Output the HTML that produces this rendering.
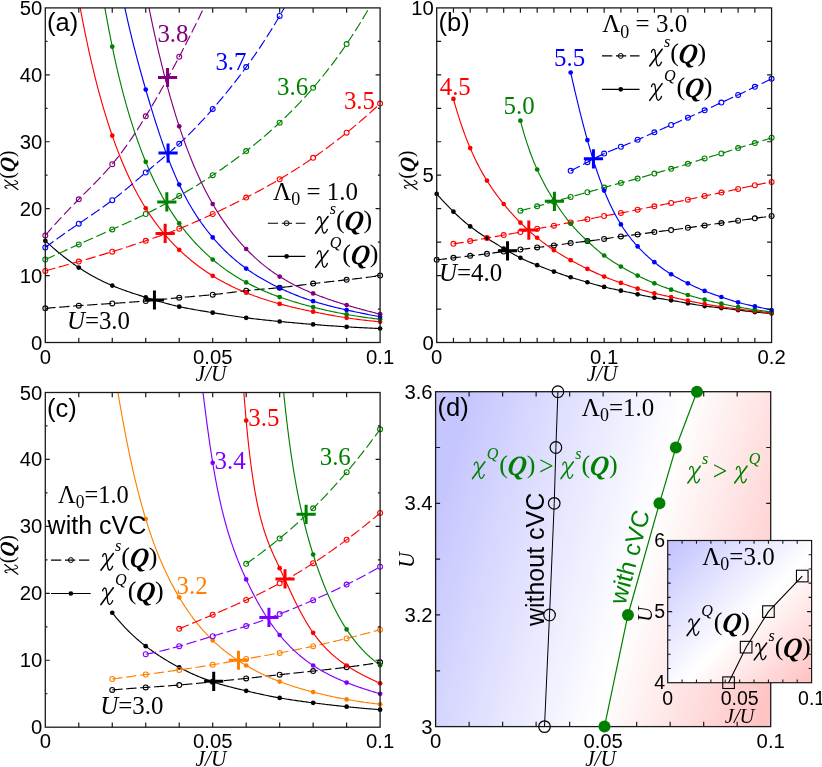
<!DOCTYPE html>
<html><head><meta charset="utf-8"><title>chart</title><style>html,body{margin:0;padding:0;background:#fff}svg{display:block;will-change:transform}</style></head><body>
<svg width="822" height="767" viewBox="0 0 822 767">
<defs>
<clipPath id="ca"><rect x="45.3" y="7.9" width="334.8" height="334.6"/></clipPath>
<clipPath id="cb"><rect x="436.7" y="7.9" width="334.9" height="334.6"/></clipPath>
<clipPath id="cc"><rect x="45.3" y="392.5" width="334.8" height="334.7"/></clipPath>
<clipPath id="cd"><rect x="435.6" y="391.7" width="335.1" height="334.9"/></clipPath>
<clipPath id="ci"><rect x="667.7" y="540.5" width="143.9" height="142.2"/></clipPath>
<linearGradient id="gd" gradientUnits="userSpaceOnUse" x1="435" y1="520" x2="790" y2="620"><stop offset="0" stop-color="#c6c6ff"/><stop offset="0.57" stop-color="#ffffff"/><stop offset="1" stop-color="#ffc4c4"/></linearGradient>
<linearGradient id="gi" gradientUnits="userSpaceOnUse" x1="667" y1="540" x2="812" y2="683"><stop offset="0" stop-color="#c0c0ff"/><stop offset="0.55" stop-color="#ffffff"/><stop offset="1" stop-color="#ffc0c0"/></linearGradient>
</defs>
<path d="M45.3 308.37 L46.98 308.22 L48.66 308.08 L50.35 307.93 L52.03 307.79 L53.71 307.65 L55.39 307.51 L57.08 307.37 L58.76 307.23 L60.44 307.1 L62.12 306.96 L63.81 306.83 L65.49 306.7 L67.17 306.56 L68.85 306.43 L70.54 306.31 L72.22 306.18 L73.9 306.05 L75.58 305.93 L77.27 305.8 L78.95 305.68 L80.63 305.56 L82.31 305.44 L84 305.32 L85.68 305.2 L87.36 305.08 L89.04 304.97 L90.73 304.85 L92.41 304.73 L94.09 304.62 L95.77 304.51 L97.45 304.39 L99.14 304.28 L100.82 304.17 L102.5 304.06 L104.18 303.95 L105.87 303.83 L107.55 303.72 L109.23 303.62 L110.91 303.51 L112.6 303.4 L114.28 303.29 L115.96 303.18 L117.64 303.07 L119.33 302.96 L121.01 302.85 L122.69 302.74 L124.37 302.63 L126.06 302.51 L127.74 302.4 L129.42 302.28 L131.1 302.16 L132.79 302.04 L134.47 301.92 L136.15 301.79 L137.83 301.66 L139.52 301.53 L141.2 301.4 L142.88 301.26 L144.56 301.11 L146.24 300.96 L147.93 300.81 L149.61 300.66 L151.29 300.5 L152.97 300.33 L154.66 300.17 L156.34 300 L158.02 299.83 L159.7 299.65 L161.39 299.48 L163.07 299.3 L164.75 299.13 L166.43 298.95 L168.12 298.78 L169.8 298.6 L171.48 298.43 L173.16 298.26 L174.85 298.09 L176.53 297.92 L178.21 297.76 L179.89 297.6 L181.58 297.44 L183.26 297.29 L184.94 297.14 L186.62 296.99 L188.31 296.85 L189.99 296.7 L191.67 296.56 L193.35 296.42 L195.03 296.28 L196.72 296.13 L198.4 295.99 L200.08 295.84 L201.76 295.7 L203.45 295.55 L205.13 295.39 L206.81 295.24 L208.49 295.08 L210.18 294.91 L211.86 294.74 L213.54 294.56 L215.22 294.38 L216.91 294.19 L218.59 294 L220.27 293.81 L221.95 293.61 L223.64 293.4 L225.32 293.2 L227 292.99 L228.68 292.78 L230.37 292.58 L232.05 292.37 L233.73 292.16 L235.41 291.95 L237.09 291.75 L238.78 291.55 L240.46 291.35 L242.14 291.15 L243.82 290.96 L245.51 290.78 L247.19 290.6 L248.87 290.42 L250.55 290.26 L252.24 290.09 L253.92 289.94 L255.6 289.78 L257.28 289.63 L258.97 289.48 L260.65 289.33 L262.33 289.19 L264.01 289.04 L265.7 288.9 L267.38 288.75 L269.06 288.61 L270.74 288.46 L272.43 288.31 L274.11 288.16 L275.79 288 L277.47 287.84 L279.16 287.68 L280.84 287.51 L282.52 287.33 L284.2 287.15 L285.88 286.96 L287.57 286.77 L289.25 286.57 L290.93 286.38 L292.61 286.17 L294.3 285.97 L295.98 285.76 L297.66 285.55 L299.34 285.34 L301.03 285.13 L302.71 284.92 L304.39 284.71 L306.07 284.49 L307.76 284.28 L309.44 284.07 L311.12 283.86 L312.8 283.65 L314.49 283.45 L316.17 283.24 L317.85 283.04 L319.53 282.84 L321.22 282.65 L322.9 282.45 L324.58 282.26 L326.26 282.07 L327.95 281.88 L329.63 281.69 L331.31 281.5 L332.99 281.31 L334.67 281.12 L336.36 280.94 L338.04 280.75 L339.72 280.56 L341.4 280.38 L343.09 280.19 L344.77 280 L346.45 279.81 L348.13 279.63 L349.82 279.44 L351.5 279.24 L353.18 279.05 L354.86 278.86 L356.55 278.66 L358.23 278.46 L359.91 278.26 L361.59 278.06 L363.28 277.85 L364.96 277.64 L366.64 277.43 L368.32 277.21 L370.01 276.99 L371.69 276.77 L373.37 276.54 L375.05 276.31 L376.74 276.07 L378.42 275.83 L380.1 275.58" fill="none" stroke="#000000" stroke-width="1.15" stroke-dasharray="10.3 3.7" clip-path="url(#ca)"/>
<path d="M45.3 240.78 L46.98 242.34 L48.66 243.87 L50.35 245.38 L52.03 246.87 L53.71 248.34 L55.39 249.79 L57.08 251.21 L58.76 252.61 L60.44 253.99 L62.12 255.35 L63.81 256.68 L65.49 257.99 L67.17 259.28 L68.85 260.55 L70.54 261.79 L72.22 263.01 L73.9 264.21 L75.58 265.38 L77.27 266.53 L78.95 267.66 L80.63 268.77 L82.31 269.85 L84 270.92 L85.68 271.96 L87.36 272.98 L89.04 273.97 L90.73 274.95 L92.41 275.9 L94.09 276.84 L95.77 277.75 L97.45 278.64 L99.14 279.51 L100.82 280.36 L102.5 281.19 L104.18 282 L105.87 282.79 L107.55 283.56 L109.23 284.31 L110.91 285.05 L112.6 285.76 L114.28 286.45 L115.96 287.13 L117.64 287.79 L119.33 288.44 L121.01 289.07 L122.69 289.69 L124.37 290.29 L126.06 290.89 L127.74 291.47 L129.42 292.05 L131.1 292.62 L132.79 293.18 L134.47 293.73 L136.15 294.28 L137.83 294.82 L139.52 295.36 L141.2 295.9 L142.88 296.43 L144.56 296.96 L146.24 297.49 L147.93 298.01 L149.61 298.54 L151.29 299.06 L152.97 299.57 L154.66 300.08 L156.34 300.59 L158.02 301.09 L159.7 301.58 L161.39 302.06 L163.07 302.54 L164.75 303.01 L166.43 303.47 L168.12 303.92 L169.8 304.36 L171.48 304.79 L173.16 305.21 L174.85 305.62 L176.53 306.02 L178.21 306.4 L179.89 306.78 L181.58 307.14 L183.26 307.49 L184.94 307.83 L186.62 308.17 L188.31 308.49 L189.99 308.81 L191.67 309.11 L193.35 309.42 L195.03 309.71 L196.72 310.01 L198.4 310.3 L200.08 310.58 L201.76 310.86 L203.45 311.14 L205.13 311.42 L206.81 311.69 L208.49 311.97 L210.18 312.24 L211.86 312.52 L213.54 312.79 L215.22 313.07 L216.91 313.34 L218.59 313.62 L220.27 313.89 L221.95 314.17 L223.64 314.44 L225.32 314.71 L227 314.98 L228.68 315.25 L230.37 315.51 L232.05 315.77 L233.73 316.03 L235.41 316.28 L237.09 316.53 L238.78 316.78 L240.46 317.02 L242.14 317.26 L243.82 317.49 L245.51 317.72 L247.19 317.94 L248.87 318.16 L250.55 318.37 L252.24 318.58 L253.92 318.78 L255.6 318.98 L257.28 319.17 L258.97 319.36 L260.65 319.55 L262.33 319.73 L264.01 319.92 L265.7 320.09 L267.38 320.27 L269.06 320.44 L270.74 320.61 L272.43 320.78 L274.11 320.95 L275.79 321.11 L277.47 321.28 L279.16 321.44 L280.84 321.6 L282.52 321.76 L284.2 321.92 L285.88 322.07 L287.57 322.23 L289.25 322.38 L290.93 322.53 L292.61 322.69 L294.3 322.84 L295.98 322.98 L297.66 323.13 L299.34 323.28 L301.03 323.42 L302.71 323.57 L304.39 323.71 L306.07 323.85 L307.76 323.99 L309.44 324.13 L311.12 324.27 L312.8 324.4 L314.49 324.54 L316.17 324.67 L317.85 324.81 L319.53 324.94 L321.22 325.07 L322.9 325.2 L324.58 325.32 L326.26 325.45 L327.95 325.57 L329.63 325.7 L331.31 325.82 L332.99 325.94 L334.67 326.05 L336.36 326.17 L338.04 326.29 L339.72 326.4 L341.4 326.51 L343.09 326.62 L344.77 326.72 L346.45 326.83 L348.13 326.93 L349.82 327.04 L351.5 327.13 L353.18 327.23 L354.86 327.33 L356.55 327.42 L358.23 327.51 L359.91 327.6 L361.59 327.69 L363.28 327.78 L364.96 327.86 L366.64 327.94 L368.32 328.02 L370.01 328.1 L371.69 328.17 L373.37 328.24 L375.05 328.32 L376.74 328.38 L378.42 328.45 L380.1 328.51" fill="none" stroke="#000000" stroke-width="1.15" clip-path="url(#ca)"/>
<path d="M45.3 270.9 L46.98 270.43 L48.66 269.96 L50.35 269.49 L52.03 269.02 L53.71 268.55 L55.39 268.08 L57.08 267.61 L58.76 267.14 L60.44 266.67 L62.12 266.2 L63.81 265.73 L65.49 265.26 L67.17 264.79 L68.85 264.32 L70.54 263.85 L72.22 263.38 L73.9 262.9 L75.58 262.43 L77.27 261.96 L78.95 261.48 L80.63 261 L82.31 260.52 L84 260.04 L85.68 259.56 L87.36 259.08 L89.04 258.6 L90.73 258.11 L92.41 257.62 L94.09 257.13 L95.77 256.64 L97.45 256.15 L99.14 255.65 L100.82 255.15 L102.5 254.65 L104.18 254.15 L105.87 253.64 L107.55 253.13 L109.23 252.62 L110.91 252.1 L112.6 251.59 L114.28 251.06 L115.96 250.54 L117.64 250.01 L119.33 249.48 L121.01 248.94 L122.69 248.4 L124.37 247.86 L126.06 247.32 L127.74 246.77 L129.42 246.22 L131.1 245.67 L132.79 245.12 L134.47 244.56 L136.15 244 L137.83 243.44 L139.52 242.88 L141.2 242.31 L142.88 241.75 L144.56 241.18 L146.24 240.61 L147.93 240.04 L149.61 239.47 L151.29 238.89 L152.97 238.32 L154.66 237.74 L156.34 237.16 L158.02 236.57 L159.7 235.98 L161.39 235.39 L163.07 234.79 L164.75 234.19 L166.43 233.58 L168.12 232.96 L169.8 232.34 L171.48 231.72 L173.16 231.08 L174.85 230.44 L176.53 229.79 L178.21 229.13 L179.89 228.47 L181.58 227.79 L183.26 227.11 L184.94 226.42 L186.62 225.71 L188.31 225 L189.99 224.29 L191.67 223.56 L193.35 222.83 L195.03 222.09 L196.72 221.35 L198.4 220.6 L200.08 219.84 L201.76 219.08 L203.45 218.31 L205.13 217.54 L206.81 216.76 L208.49 215.98 L210.18 215.2 L211.86 214.41 L213.54 213.62 L215.22 212.82 L216.91 212.03 L218.59 211.23 L220.27 210.43 L221.95 209.62 L223.64 208.82 L225.32 208 L227 207.19 L228.68 206.37 L230.37 205.55 L232.05 204.72 L233.73 203.89 L235.41 203.06 L237.09 202.22 L238.78 201.38 L240.46 200.53 L242.14 199.68 L243.82 198.83 L245.51 197.96 L247.19 197.1 L248.87 196.23 L250.55 195.35 L252.24 194.47 L253.92 193.58 L255.6 192.69 L257.28 191.79 L258.97 190.88 L260.65 189.97 L262.33 189.06 L264.01 188.13 L265.7 187.2 L267.38 186.27 L269.06 185.32 L270.74 184.37 L272.43 183.41 L274.11 182.45 L275.79 181.48 L277.47 180.5 L279.16 179.51 L280.84 178.52 L282.52 177.52 L284.2 176.51 L285.88 175.49 L287.57 174.46 L289.25 173.43 L290.93 172.38 L292.61 171.33 L294.3 170.27 L295.98 169.2 L297.66 168.13 L299.34 167.04 L301.03 165.95 L302.71 164.84 L304.39 163.73 L306.07 162.61 L307.76 161.48 L309.44 160.34 L311.12 159.19 L312.8 158.03 L314.49 156.87 L316.17 155.69 L317.85 154.5 L319.53 153.31 L321.22 152.1 L322.9 150.89 L324.58 149.66 L326.26 148.43 L327.95 147.18 L329.63 145.93 L331.31 144.66 L332.99 143.39 L334.67 142.11 L336.36 140.81 L338.04 139.51 L339.72 138.2 L341.4 136.87 L343.09 135.54 L344.77 134.2 L346.45 132.84 L348.13 131.48 L349.82 130.1 L351.5 128.72 L353.18 127.32 L354.86 125.92 L356.55 124.5 L358.23 123.08 L359.91 121.64 L361.59 120.2 L363.28 118.74 L364.96 117.27 L366.64 115.8 L368.32 114.31 L370.01 112.81 L371.69 111.3 L373.37 109.78 L375.05 108.25 L376.74 106.71 L378.42 105.16 L380.1 103.6" fill="none" stroke="#ff0000" stroke-width="1.15" stroke-dasharray="10.3 3.7" clip-path="url(#ca)"/>
<path d="M62.04 -112.56 L63.64 -99.93 L65.24 -87.75 L66.83 -75.99 L68.43 -64.65 L70.03 -53.69 L71.63 -43.11 L73.23 -32.9 L74.83 -23.03 L76.42 -13.49 L78.02 -4.27 L79.62 4.64 L81.22 13.26 L82.82 21.59 L84.42 29.65 L86.01 37.45 L87.61 45 L89.21 52.31 L90.81 59.38 L92.41 66.24 L94.01 72.87 L95.6 79.3 L97.2 85.53 L98.8 91.57 L100.4 97.42 L102 103.1 L103.6 108.6 L105.19 113.94 L106.79 119.12 L108.39 124.15 L109.99 129.03 L111.59 133.76 L113.19 138.36 L114.78 142.83 L116.38 147.17 L117.98 151.38 L119.58 155.47 L121.18 159.45 L122.78 163.31 L124.37 167.07 L125.97 170.72 L127.57 174.27 L129.17 177.71 L130.77 181.07 L132.36 184.33 L133.96 187.49 L135.56 190.58 L137.16 193.57 L138.76 196.49 L140.36 199.33 L141.95 202.08 L143.55 204.77 L145.15 207.38 L146.75 209.92 L148.35 212.4 L149.95 214.81 L151.54 217.15 L153.14 219.44 L154.74 221.67 L156.34 223.84 L157.94 225.95 L159.54 228.02 L161.13 230.03 L162.73 232 L164.33 233.92 L165.93 235.79 L167.53 237.62 L169.13 239.41 L170.72 241.15 L172.32 242.86 L173.92 244.53 L175.52 246.17 L177.12 247.76 L178.72 249.33 L180.31 250.86 L181.91 252.36 L183.51 253.83 L185.11 255.26 L186.71 256.67 L188.31 258.05 L189.9 259.4 L191.5 260.72 L193.1 262.01 L194.7 263.28 L196.3 264.52 L197.89 265.73 L199.49 266.92 L201.09 268.08 L202.69 269.22 L204.29 270.34 L205.89 271.43 L207.48 272.51 L209.08 273.55 L210.68 274.58 L212.28 275.59 L213.88 276.57 L215.48 277.54 L217.07 278.48 L218.67 279.41 L220.27 280.31 L221.87 281.2 L223.47 282.07 L225.07 282.92 L226.66 283.76 L228.26 284.58 L229.86 285.38 L231.46 286.17 L233.06 286.94 L234.66 287.69 L236.25 288.43 L237.85 289.16 L239.45 289.87 L241.05 290.56 L242.65 291.25 L244.25 291.92 L245.84 292.57 L247.44 293.22 L249.04 293.85 L250.64 294.47 L252.24 295.08 L253.83 295.67 L255.43 296.26 L257.03 296.83 L258.63 297.39 L260.23 297.95 L261.83 298.49 L263.42 299.02 L265.02 299.54 L266.62 300.05 L268.22 300.55 L269.82 301.05 L271.42 301.53 L273.01 302 L274.61 302.47 L276.21 302.93 L277.81 303.38 L279.41 303.82 L281.01 304.25 L282.6 304.68 L284.2 305.09 L285.8 305.51 L287.4 305.91 L289 306.31 L290.6 306.7 L292.19 307.09 L293.79 307.47 L295.39 307.84 L296.99 308.21 L298.59 308.58 L300.19 308.94 L301.78 309.29 L303.38 309.64 L304.98 309.99 L306.58 310.34 L308.18 310.68 L309.78 311.02 L311.37 311.35 L312.97 311.68 L314.57 312.01 L316.17 312.34 L317.77 312.66 L319.36 312.98 L320.96 313.3 L322.56 313.61 L324.16 313.92 L325.76 314.22 L327.36 314.52 L328.95 314.82 L330.55 315.11 L332.15 315.4 L333.75 315.69 L335.35 315.97 L336.95 316.24 L338.54 316.51 L340.14 316.78 L341.74 317.04 L343.34 317.3 L344.94 317.55 L346.54 317.79 L348.13 318.04 L349.73 318.27 L351.33 318.5 L352.93 318.73 L354.53 318.95 L356.13 319.17 L357.72 319.38 L359.32 319.58 L360.92 319.78 L362.52 319.98 L364.12 320.17 L365.72 320.35 L367.31 320.53 L368.91 320.7 L370.51 320.87 L372.11 321.03 L373.71 321.19 L375.31 321.34 L376.9 321.48 L378.5 321.62 L380.1 321.75" fill="none" stroke="#ff0000" stroke-width="1.15" clip-path="url(#ca)"/>
<path d="M45.3 259.52 L46.98 258.76 L48.66 258 L50.35 257.24 L52.03 256.48 L53.71 255.72 L55.39 254.95 L57.08 254.19 L58.76 253.43 L60.44 252.67 L62.12 251.91 L63.81 251.15 L65.49 250.39 L67.17 249.63 L68.85 248.87 L70.54 248.11 L72.22 247.35 L73.9 246.59 L75.58 245.84 L77.27 245.08 L78.95 244.32 L80.63 243.56 L82.31 242.81 L84 242.05 L85.68 241.29 L87.36 240.54 L89.04 239.78 L90.73 239.03 L92.41 238.27 L94.09 237.52 L95.77 236.77 L97.45 236.01 L99.14 235.26 L100.82 234.51 L102.5 233.76 L104.18 233.01 L105.87 232.26 L107.55 231.5 L109.23 230.75 L110.91 230 L112.6 229.26 L114.28 228.51 L115.96 227.76 L117.64 227.01 L119.33 226.26 L121.01 225.5 L122.69 224.75 L124.37 223.99 L126.06 223.24 L127.74 222.47 L129.42 221.71 L131.1 220.94 L132.79 220.17 L134.47 219.39 L136.15 218.61 L137.83 217.82 L139.52 217.02 L141.2 216.22 L142.88 215.41 L144.56 214.59 L146.24 213.76 L147.93 212.93 L149.61 212.09 L151.29 211.23 L152.97 210.37 L154.66 209.5 L156.34 208.62 L158.02 207.74 L159.7 206.84 L161.39 205.94 L163.07 205.03 L164.75 204.12 L166.43 203.19 L168.12 202.26 L169.8 201.32 L171.48 200.38 L173.16 199.42 L174.85 198.47 L176.53 197.5 L178.21 196.53 L179.89 195.55 L181.58 194.57 L183.26 193.58 L184.94 192.59 L186.62 191.59 L188.31 190.58 L189.99 189.57 L191.67 188.55 L193.35 187.53 L195.03 186.49 L196.72 185.45 L198.4 184.41 L200.08 183.35 L201.76 182.29 L203.45 181.22 L205.13 180.15 L206.81 179.06 L208.49 177.97 L210.18 176.87 L211.86 175.76 L213.54 174.64 L215.22 173.51 L216.91 172.38 L218.59 171.23 L220.27 170.08 L221.95 168.91 L223.64 167.74 L225.32 166.56 L227 165.37 L228.68 164.17 L230.37 162.96 L232.05 161.74 L233.73 160.51 L235.41 159.27 L237.09 158.02 L238.78 156.77 L240.46 155.5 L242.14 154.22 L243.82 152.93 L245.51 151.63 L247.19 150.32 L248.87 149 L250.55 147.67 L252.24 146.33 L253.92 144.98 L255.6 143.61 L257.28 142.24 L258.97 140.85 L260.65 139.45 L262.33 138.04 L264.01 136.61 L265.7 135.17 L267.38 133.72 L269.06 132.25 L270.74 130.77 L272.43 129.27 L274.11 127.76 L275.79 126.24 L277.47 124.7 L279.16 123.14 L280.84 121.56 L282.52 119.97 L284.2 118.37 L285.88 116.74 L287.57 115.1 L289.25 113.44 L290.93 111.76 L292.61 110.07 L294.3 108.35 L295.98 106.62 L297.66 104.87 L299.34 103.09 L301.03 101.3 L302.71 99.49 L304.39 97.66 L306.07 95.81 L307.76 93.94 L309.44 92.04 L311.12 90.13 L312.8 88.19 L314.49 86.23 L316.17 84.25 L317.85 82.25 L319.53 80.22 L321.22 78.17 L322.9 76.1 L324.58 74 L326.26 71.87 L327.95 69.72 L329.63 67.55 L331.31 65.35 L332.99 63.12 L334.67 60.86 L336.36 58.58 L338.04 56.27 L339.72 53.93 L341.4 51.57 L343.09 49.17 L344.77 46.74 L346.45 44.28 L348.13 41.8 L349.82 39.28 L351.5 36.72 L353.18 34.14 L354.86 31.52 L356.55 28.87 L358.23 26.18 L359.91 23.46 L361.59 20.7 L363.28 17.91 L364.96 15.08 L366.64 12.21 L368.32 9.3 L370.01 6.36 L371.69 3.37 L373.37 0.35 L375.05 -2.72 L376.74 -5.83 L378.42 -8.98 L380.1 -12.18" fill="none" stroke="#008000" stroke-width="1.15" stroke-dasharray="10.3 3.7" clip-path="url(#ca)"/>
<path d="M78.78 -192.86 L80.29 -178.04 L81.81 -163.66 L83.32 -149.7 L84.84 -136.16 L86.35 -123.03 L87.87 -110.3 L89.38 -97.97 L90.89 -86.01 L92.41 -74.43 L93.92 -63.22 L95.44 -52.36 L96.95 -41.86 L98.46 -31.69 L99.98 -21.85 L101.49 -12.34 L103.01 -3.14 L104.52 5.75 L106.04 14.35 L107.55 22.65 L109.06 30.67 L110.58 38.42 L112.09 45.9 L113.61 53.12 L115.12 60.09 L116.63 66.82 L118.15 73.33 L119.66 79.62 L121.18 85.7 L122.69 91.58 L124.21 97.28 L125.72 102.79 L127.23 108.13 L128.75 113.3 L130.26 118.31 L131.78 123.17 L133.29 127.88 L134.8 132.45 L136.32 136.89 L137.83 141.2 L139.35 145.39 L140.86 149.46 L142.38 153.41 L143.89 157.26 L145.4 161 L146.92 164.64 L148.43 168.18 L149.95 171.63 L151.46 174.99 L152.97 178.26 L154.49 181.45 L156 184.55 L157.52 187.57 L159.03 190.51 L160.55 193.38 L162.06 196.18 L163.57 198.9 L165.09 201.56 L166.6 204.15 L168.12 206.67 L169.63 209.13 L171.14 211.53 L172.66 213.88 L174.17 216.16 L175.69 218.39 L177.2 220.56 L178.72 222.69 L180.23 224.76 L181.74 226.78 L183.26 228.75 L184.77 230.68 L186.29 232.57 L187.8 234.41 L189.31 236.2 L190.83 237.96 L192.34 239.68 L193.86 241.36 L195.37 243 L196.89 244.61 L198.4 246.18 L199.91 247.72 L201.43 249.23 L202.94 250.71 L204.46 252.15 L205.97 253.57 L207.48 254.95 L209 256.31 L210.51 257.64 L212.03 258.95 L213.54 260.23 L215.06 261.48 L216.57 262.71 L218.08 263.92 L219.6 265.1 L221.11 266.26 L222.63 267.4 L224.14 268.51 L225.65 269.6 L227.17 270.67 L228.68 271.72 L230.2 272.75 L231.71 273.76 L233.23 274.74 L234.74 275.71 L236.25 276.66 L237.77 277.59 L239.28 278.5 L240.8 279.39 L242.31 280.26 L243.82 281.11 L245.34 281.95 L246.85 282.77 L248.37 283.57 L249.88 284.36 L251.4 285.12 L252.91 285.88 L254.42 286.62 L255.94 287.34 L257.45 288.05 L258.97 288.75 L260.48 289.43 L261.99 290.1 L263.51 290.76 L265.02 291.4 L266.54 292.03 L268.05 292.65 L269.57 293.26 L271.08 293.86 L272.59 294.45 L274.11 295.03 L275.62 295.6 L277.14 296.15 L278.65 296.7 L280.16 297.24 L281.68 297.77 L283.19 298.29 L284.71 298.8 L286.22 299.31 L287.74 299.8 L289.25 300.29 L290.76 300.77 L292.28 301.24 L293.79 301.71 L295.31 302.17 L296.82 302.62 L298.33 303.06 L299.85 303.5 L301.36 303.94 L302.88 304.36 L304.39 304.78 L305.91 305.2 L307.42 305.6 L308.93 306.01 L310.45 306.41 L311.96 306.8 L313.48 307.18 L314.99 307.57 L316.5 307.94 L318.02 308.32 L319.53 308.68 L321.05 309.05 L322.56 309.4 L324.08 309.75 L325.59 310.1 L327.1 310.44 L328.62 310.78 L330.13 311.11 L331.65 311.44 L333.16 311.76 L334.67 312.08 L336.19 312.39 L337.7 312.69 L339.22 312.99 L340.73 313.29 L342.25 313.58 L343.76 313.87 L345.27 314.15 L346.79 314.42 L348.3 314.7 L349.82 314.96 L351.33 315.22 L352.84 315.48 L354.36 315.73 L355.87 315.98 L357.39 316.22 L358.9 316.46 L360.42 316.69 L361.93 316.91 L363.44 317.14 L364.96 317.36 L366.47 317.57 L367.99 317.78 L369.5 317.98 L371.01 318.18 L372.53 318.37 L374.04 318.56 L375.56 318.75 L377.07 318.93 L378.59 319.11 L380.1 319.28" fill="none" stroke="#008000" stroke-width="1.15" clip-path="url(#ca)"/>
<path d="M45.3 247.47 L46.65 246.47 L47.99 245.46 L49.34 244.47 L50.68 243.47 L52.03 242.49 L53.38 241.5 L54.72 240.52 L56.07 239.55 L57.41 238.58 L58.76 237.62 L60.11 236.66 L61.45 235.7 L62.8 234.75 L64.14 233.81 L65.49 232.86 L66.83 231.93 L68.18 230.99 L69.53 230.06 L70.87 229.13 L72.22 228.2 L73.56 227.28 L74.91 226.36 L76.26 225.44 L77.6 224.52 L78.95 223.6 L80.29 222.69 L81.64 221.77 L82.99 220.86 L84.33 219.94 L85.68 219.03 L87.02 218.11 L88.37 217.2 L89.72 216.28 L91.06 215.36 L92.41 214.44 L93.75 213.51 L95.1 212.59 L96.45 211.65 L97.79 210.72 L99.14 209.78 L100.48 208.83 L101.83 207.88 L103.17 206.92 L104.52 205.95 L105.87 204.98 L107.21 203.99 L108.56 203 L109.9 202 L111.25 200.99 L112.6 199.97 L113.94 198.94 L115.29 197.9 L116.63 196.84 L117.98 195.78 L119.33 194.71 L120.67 193.62 L122.02 192.53 L123.36 191.43 L124.71 190.33 L126.06 189.22 L127.4 188.1 L128.75 186.97 L130.09 185.84 L131.44 184.7 L132.79 183.57 L134.13 182.42 L135.48 181.28 L136.82 180.13 L138.17 178.98 L139.52 177.83 L140.86 176.68 L142.21 175.53 L143.55 174.38 L144.9 173.24 L146.24 172.1 L147.59 170.96 L148.94 169.82 L150.28 168.69 L151.63 167.56 L152.97 166.43 L154.32 165.3 L155.67 164.17 L157.01 163.04 L158.36 161.91 L159.7 160.77 L161.05 159.64 L162.4 158.5 L163.74 157.36 L165.09 156.22 L166.43 155.07 L167.78 153.91 L169.13 152.75 L170.47 151.58 L171.82 150.4 L173.16 149.22 L174.51 148.02 L175.86 146.81 L177.2 145.6 L178.55 144.37 L179.89 143.12 L181.24 141.87 L182.58 140.6 L183.93 139.32 L185.28 138.02 L186.62 136.71 L187.97 135.39 L189.31 134.05 L190.66 132.71 L192.01 131.35 L193.35 129.97 L194.7 128.59 L196.04 127.19 L197.39 125.78 L198.74 124.36 L200.08 122.93 L201.43 121.48 L202.77 120.03 L204.12 118.56 L205.47 117.08 L206.81 115.59 L208.16 114.09 L209.5 112.58 L210.85 111.06 L212.2 109.53 L213.54 107.98 L214.89 106.43 L216.23 104.87 L217.58 103.3 L218.92 101.72 L220.27 100.13 L221.62 98.52 L222.96 96.91 L224.31 95.28 L225.65 93.65 L227 92 L228.35 90.34 L229.69 88.67 L231.04 86.98 L232.38 85.29 L233.73 83.58 L235.08 81.85 L236.42 80.12 L237.77 78.37 L239.11 76.61 L240.46 74.83 L241.81 73.04 L243.15 71.24 L244.5 69.42 L245.84 67.58 L247.19 65.74 L248.54 63.87 L249.88 61.99 L251.23 60.1 L252.57 58.19 L253.92 56.26 L255.27 54.32 L256.61 52.36 L257.96 50.38 L259.3 48.38 L260.65 46.37 L261.99 44.34 L263.34 42.29 L264.69 40.23 L266.03 38.14 L267.38 36.04 L268.72 33.92 L270.07 31.78 L271.42 29.62 L272.76 27.43 L274.11 25.23 L275.45 23.01 L276.8 20.77 L278.15 18.5 L279.49 16.22 L280.84 13.91 L282.18 11.58 L283.53 9.23 L284.88 6.85 L286.22 4.46 L287.57 2.03 L288.91 -0.41 L290.26 -2.88 L291.61 -5.38 L292.95 -7.9 L294.3 -10.44 L295.64 -13.01 L296.99 -15.61 L298.33 -18.23 L299.68 -20.89 L301.03 -23.56 L302.37 -26.27 L303.72 -29.01 L305.06 -31.77 L306.41 -34.56 L307.76 -37.38 L309.1 -40.24 L310.45 -43.12 L311.79 -46.04 L313.14 -48.98" fill="none" stroke="#0000ff" stroke-width="1.15" stroke-dasharray="10.3 3.7" clip-path="url(#ca)"/>
<path d="M112.26 -62.37 L113.61 -53.57 L114.95 -45.15 L116.3 -37.06 L117.64 -29.29 L118.99 -21.82 L120.34 -14.63 L121.68 -7.68 L123.03 -0.98 L124.37 5.5 L125.72 11.78 L127.07 17.88 L128.41 23.79 L129.76 29.55 L131.1 35.16 L132.45 40.64 L133.79 45.99 L135.14 51.22 L136.49 56.36 L137.83 61.39 L139.18 66.35 L140.52 71.23 L141.87 76.03 L143.22 80.78 L144.56 85.48 L145.91 90.12 L147.25 94.72 L148.6 99.27 L149.95 103.78 L151.29 108.23 L152.64 112.62 L153.98 116.94 L155.33 121.21 L156.68 125.41 L158.02 129.54 L159.37 133.6 L160.71 137.59 L162.06 141.51 L163.41 145.35 L164.75 149.11 L166.1 152.8 L167.44 156.41 L168.79 159.94 L170.13 163.39 L171.48 166.76 L172.83 170.04 L174.17 173.25 L175.52 176.38 L176.86 179.43 L178.21 182.4 L179.56 185.28 L180.9 188.09 L182.25 190.82 L183.59 193.48 L184.94 196.07 L186.29 198.59 L187.63 201.04 L188.98 203.43 L190.32 205.76 L191.67 208.04 L193.02 210.25 L194.36 212.42 L195.71 214.53 L197.05 216.59 L198.4 218.6 L199.75 220.57 L201.09 222.49 L202.44 224.37 L203.78 226.21 L205.13 228 L206.48 229.76 L207.82 231.48 L209.17 233.17 L210.51 234.82 L211.86 236.44 L213.2 238.03 L214.55 239.58 L215.9 241.11 L217.24 242.6 L218.59 244.07 L219.93 245.51 L221.28 246.92 L222.63 248.3 L223.97 249.65 L225.32 250.98 L226.66 252.28 L228.01 253.56 L229.36 254.81 L230.7 256.04 L232.05 257.24 L233.39 258.43 L234.74 259.58 L236.09 260.72 L237.43 261.83 L238.78 262.92 L240.12 263.99 L241.47 265.04 L242.82 266.07 L244.16 267.08 L245.51 268.07 L246.85 269.04 L248.2 269.99 L249.54 270.92 L250.89 271.83 L252.24 272.73 L253.58 273.61 L254.93 274.48 L256.27 275.33 L257.62 276.16 L258.97 276.98 L260.31 277.79 L261.66 278.58 L263 279.36 L264.35 280.12 L265.7 280.87 L267.04 281.62 L268.39 282.34 L269.73 283.06 L271.08 283.77 L272.43 284.46 L273.77 285.15 L275.12 285.82 L276.46 286.49 L277.81 287.14 L279.16 287.79 L280.5 288.42 L281.85 289.05 L283.19 289.67 L284.54 290.28 L285.88 290.88 L287.23 291.48 L288.58 292.06 L289.92 292.63 L291.27 293.2 L292.61 293.76 L293.96 294.31 L295.31 294.85 L296.65 295.38 L298 295.9 L299.34 296.42 L300.69 296.92 L302.04 297.42 L303.38 297.91 L304.73 298.39 L306.07 298.86 L307.42 299.33 L308.77 299.78 L310.11 300.23 L311.46 300.67 L312.8 301.1 L314.15 301.53 L315.5 301.94 L316.84 302.35 L318.19 302.76 L319.53 303.15 L320.88 303.54 L322.23 303.92 L323.57 304.3 L324.92 304.67 L326.26 305.03 L327.61 305.39 L328.95 305.74 L330.3 306.09 L331.65 306.43 L332.99 306.77 L334.34 307.11 L335.68 307.44 L337.03 307.76 L338.38 308.08 L339.72 308.4 L341.07 308.72 L342.41 309.03 L343.76 309.33 L345.11 309.64 L346.45 309.94 L347.8 310.24 L349.14 310.53 L350.49 310.83 L351.84 311.12 L353.18 311.4 L354.53 311.69 L355.87 311.97 L357.22 312.25 L358.57 312.53 L359.91 312.81 L361.26 313.08 L362.6 313.36 L363.95 313.63 L365.29 313.9 L366.64 314.17 L367.99 314.44 L369.33 314.71 L370.68 314.97 L372.02 315.24 L373.37 315.5 L374.72 315.76 L376.06 316.02 L377.41 316.28 L378.75 316.54 L380.1 316.8" fill="none" stroke="#0000ff" stroke-width="1.15" clip-path="url(#ca)"/>
<path d="M45.3 235.43 L46.31 234.25 L47.32 233.07 L48.33 231.91 L49.34 230.74 L50.35 229.59 L51.36 228.44 L52.37 227.29 L53.38 226.15 L54.39 225.02 L55.39 223.89 L56.4 222.77 L57.41 221.66 L58.42 220.55 L59.43 219.45 L60.44 218.35 L61.45 217.26 L62.46 216.17 L63.47 215.09 L64.48 214.02 L65.49 212.95 L66.5 211.89 L67.51 210.83 L68.52 209.78 L69.53 208.73 L70.54 207.68 L71.55 206.64 L72.56 205.61 L73.56 204.57 L74.57 203.54 L75.58 202.52 L76.59 201.5 L77.6 200.48 L78.61 199.46 L79.62 198.45 L80.63 197.43 L81.64 196.42 L82.65 195.41 L83.66 194.4 L84.67 193.39 L85.68 192.38 L86.69 191.37 L87.7 190.36 L88.71 189.35 L89.72 188.34 L90.73 187.32 L91.73 186.3 L92.74 185.28 L93.75 184.26 L94.76 183.23 L95.77 182.19 L96.78 181.16 L97.79 180.11 L98.8 179.06 L99.81 178 L100.82 176.94 L101.83 175.87 L102.84 174.78 L103.85 173.69 L104.86 172.59 L105.87 171.48 L106.88 170.36 L107.89 169.23 L108.9 168.08 L109.9 166.92 L110.91 165.75 L111.92 164.56 L112.93 163.35 L113.94 162.13 L114.95 160.9 L115.96 159.65 L116.97 158.38 L117.98 157.1 L118.99 155.8 L120 154.48 L121.01 153.16 L122.02 151.81 L123.03 150.45 L124.04 149.08 L125.05 147.69 L126.06 146.29 L127.07 144.87 L128.07 143.44 L129.08 142 L130.09 140.54 L131.1 139.07 L132.11 137.58 L133.12 136.08 L134.13 134.57 L135.14 133.04 L136.15 131.51 L137.16 129.96 L138.17 128.39 L139.18 126.82 L140.19 125.23 L141.2 123.63 L142.21 122.03 L143.22 120.41 L144.23 118.78 L145.24 117.13 L146.24 115.48 L147.25 113.82 L148.26 112.15 L149.27 110.47 L150.28 108.78 L151.29 107.08 L152.3 105.38 L153.31 103.66 L154.32 101.93 L155.33 100.2 L156.34 98.45 L157.35 96.7 L158.36 94.93 L159.37 93.16 L160.38 91.38 L161.39 89.59 L162.4 87.8 L163.41 85.99 L164.41 84.18 L165.42 82.36 L166.43 80.53 L167.44 78.69 L168.45 76.85 L169.46 75 L170.47 73.14 L171.48 71.27 L172.49 69.4 L173.5 67.52 L174.51 65.63 L175.52 63.74 L176.53 61.84 L177.54 59.94 L178.55 58.03 L179.56 56.11 L180.57 54.19 L181.58 52.26 L182.58 50.33 L183.59 48.39 L184.6 46.44 L185.61 44.49 L186.62 42.53 L187.63 40.56 L188.64 38.58 L189.65 36.59 L190.66 34.59 L191.67 32.59 L192.68 30.57 L193.69 28.55 L194.7 26.51 L195.71 24.46 L196.72 22.4 L197.73 20.33 L198.74 18.25 L199.75 16.15 L200.75 14.04 L201.76 11.91 L202.77 9.77 L203.78 7.61 L204.79 5.44 L205.8 3.26 L206.81 1.05 L207.82 -1.17 L208.83 -3.41 L209.84 -5.67 L210.85 -7.95 L211.86 -10.25 L212.87 -12.56 L213.88 -14.9 L214.89 -17.27 L215.9 -19.65 L216.91 -22.06 L217.92 -24.49 L218.92 -26.95 L219.93 -29.43 L220.94 -31.94 L221.95 -34.47 L222.96 -37.04 L223.97 -39.63 L224.98 -42.25 L225.99 -44.9 L227 -47.59 L228.01 -50.3 L229.02 -53.05 L230.03 -55.84 L231.04 -58.65 L232.05 -61.51 L233.06 -64.4 L234.07 -67.33 L235.08 -70.3 L236.09 -73.31 L237.09 -76.36 L238.1 -79.45 L239.11 -82.59 L240.12 -85.77 L241.13 -88.99 L242.14 -92.27 L243.15 -95.59 L244.16 -98.96 L245.17 -102.39 L246.18 -105.86" fill="none" stroke="#800080" stroke-width="1.15" stroke-dasharray="10.3 3.7" clip-path="url(#ca)"/>
<path d="M129 -105.86 L130.26 -97.75 L131.52 -89.77 L132.79 -81.92 L134.05 -74.2 L135.31 -66.6 L136.57 -59.14 L137.83 -51.8 L139.09 -44.58 L140.36 -37.5 L141.62 -30.53 L142.88 -23.69 L144.14 -16.97 L145.4 -10.37 L146.67 -3.89 L147.93 2.48 L149.19 8.72 L150.45 14.86 L151.71 20.87 L152.97 26.78 L154.24 32.57 L155.5 38.25 L156.76 43.82 L158.02 49.29 L159.28 54.64 L160.55 59.9 L161.81 65.05 L163.07 70.1 L164.33 75.05 L165.59 79.9 L166.85 84.65 L168.12 89.3 L169.38 93.86 L170.64 98.33 L171.9 102.71 L173.16 106.99 L174.43 111.19 L175.69 115.3 L176.95 119.32 L178.21 123.26 L179.47 127.11 L180.73 130.89 L182 134.58 L183.26 138.19 L184.52 141.73 L185.78 145.19 L187.04 148.58 L188.31 151.9 L189.57 155.15 L190.83 158.33 L192.09 161.44 L193.35 164.49 L194.61 167.47 L195.88 170.39 L197.14 173.25 L198.4 176.05 L199.66 178.79 L200.92 181.47 L202.18 184.1 L203.45 186.67 L204.71 189.19 L205.97 191.66 L207.23 194.08 L208.49 196.44 L209.76 198.76 L211.02 201.02 L212.28 203.25 L213.54 205.42 L214.8 207.55 L216.06 209.64 L217.33 211.68 L218.59 213.68 L219.85 215.65 L221.11 217.57 L222.37 219.46 L223.64 221.3 L224.9 223.12 L226.16 224.89 L227.42 226.63 L228.68 228.34 L229.94 230.02 L231.21 231.66 L232.47 233.28 L233.73 234.86 L234.99 236.41 L236.25 237.94 L237.52 239.44 L238.78 240.9 L240.04 242.35 L241.3 243.77 L242.56 245.16 L243.82 246.52 L245.09 247.87 L246.35 249.19 L247.61 250.48 L248.87 251.76 L250.13 253.01 L251.4 254.24 L252.66 255.45 L253.92 256.63 L255.18 257.8 L256.44 258.94 L257.7 260.07 L258.97 261.17 L260.23 262.25 L261.49 263.32 L262.75 264.36 L264.01 265.38 L265.28 266.39 L266.54 267.37 L267.8 268.34 L269.06 269.29 L270.32 270.22 L271.58 271.14 L272.85 272.03 L274.11 272.91 L275.37 273.78 L276.63 274.62 L277.89 275.45 L279.16 276.26 L280.42 277.06 L281.68 277.84 L282.94 278.61 L284.2 279.36 L285.46 280.1 L286.73 280.82 L287.99 281.53 L289.25 282.23 L290.51 282.91 L291.77 283.58 L293.04 284.24 L294.3 284.89 L295.56 285.53 L296.82 286.16 L298.08 286.78 L299.34 287.38 L300.61 287.98 L301.87 288.57 L303.13 289.15 L304.39 289.72 L305.65 290.28 L306.92 290.83 L308.18 291.38 L309.44 291.91 L310.7 292.44 L311.96 292.97 L313.22 293.48 L314.49 293.99 L315.75 294.49 L317.01 294.99 L318.27 295.48 L319.53 295.96 L320.79 296.44 L322.06 296.91 L323.32 297.37 L324.58 297.83 L325.84 298.29 L327.1 298.74 L328.37 299.18 L329.63 299.62 L330.89 300.05 L332.15 300.48 L333.41 300.91 L334.67 301.33 L335.94 301.74 L337.2 302.15 L338.46 302.56 L339.72 302.96 L340.98 303.36 L342.25 303.75 L343.51 304.14 L344.77 304.53 L346.03 304.91 L347.29 305.29 L348.55 305.67 L349.82 306.04 L351.08 306.41 L352.34 306.78 L353.6 307.14 L354.86 307.5 L356.13 307.86 L357.39 308.21 L358.65 308.56 L359.91 308.91 L361.17 309.25 L362.43 309.59 L363.7 309.93 L364.96 310.27 L366.22 310.61 L367.48 310.94 L368.74 311.27 L370.01 311.59 L371.27 311.92 L372.53 312.24 L373.79 312.56 L375.05 312.88 L376.31 313.19 L377.58 313.51 L378.84 313.82 L380.1 314.13" fill="none" stroke="#800080" stroke-width="1.15" clip-path="url(#ca)"/>
<circle cx="45.3" cy="308.37" r="2.45" fill="none" stroke="#000000" stroke-width="1.1"/>
<circle cx="78.78" cy="305.69" r="2.45" fill="none" stroke="#000000" stroke-width="1.1"/>
<circle cx="112.26" cy="303.42" r="2.45" fill="none" stroke="#000000" stroke-width="1.1"/>
<circle cx="145.74" cy="301.01" r="2.45" fill="none" stroke="#000000" stroke-width="1.1"/>
<circle cx="179.22" cy="297.66" r="2.45" fill="none" stroke="#000000" stroke-width="1.1"/>
<circle cx="212.7" cy="294.65" r="2.45" fill="none" stroke="#000000" stroke-width="1.1"/>
<circle cx="246.18" cy="290.7" r="2.45" fill="none" stroke="#000000" stroke-width="1.1"/>
<circle cx="279.66" cy="287.63" r="2.45" fill="none" stroke="#000000" stroke-width="1.1"/>
<circle cx="313.14" cy="283.61" r="2.45" fill="none" stroke="#000000" stroke-width="1.1"/>
<circle cx="346.62" cy="279.8" r="2.45" fill="none" stroke="#000000" stroke-width="1.1"/>
<circle cx="380.1" cy="275.58" r="2.45" fill="none" stroke="#000000" stroke-width="1.1"/>
<circle cx="45.3" cy="240.78" r="2.35" fill="#000000"/>
<circle cx="78.78" cy="267.55" r="2.35" fill="#000000"/>
<circle cx="112.26" cy="285.62" r="2.35" fill="#000000"/>
<circle cx="145.74" cy="297.33" r="2.35" fill="#000000"/>
<circle cx="179.22" cy="306.63" r="2.35" fill="#000000"/>
<circle cx="212.7" cy="312.65" r="2.35" fill="#000000"/>
<circle cx="246.18" cy="317.81" r="2.35" fill="#000000"/>
<circle cx="279.66" cy="321.49" r="2.35" fill="#000000"/>
<circle cx="313.14" cy="324.43" r="2.35" fill="#000000"/>
<circle cx="346.62" cy="326.84" r="2.35" fill="#000000"/>
<circle cx="380.1" cy="328.51" r="2.35" fill="#000000"/>
<circle cx="45.3" cy="270.9" r="2.45" fill="none" stroke="#ff0000" stroke-width="1.1"/>
<circle cx="78.78" cy="261.53" r="2.45" fill="none" stroke="#ff0000" stroke-width="1.1"/>
<circle cx="112.26" cy="251.69" r="2.45" fill="none" stroke="#ff0000" stroke-width="1.1"/>
<circle cx="145.74" cy="240.78" r="2.45" fill="none" stroke="#ff0000" stroke-width="1.1"/>
<circle cx="179.22" cy="228.74" r="2.45" fill="none" stroke="#ff0000" stroke-width="1.1"/>
<circle cx="212.7" cy="214.01" r="2.45" fill="none" stroke="#ff0000" stroke-width="1.1"/>
<circle cx="246.18" cy="197.62" r="2.45" fill="none" stroke="#ff0000" stroke-width="1.1"/>
<circle cx="279.66" cy="179.22" r="2.45" fill="none" stroke="#ff0000" stroke-width="1.1"/>
<circle cx="313.14" cy="157.8" r="2.45" fill="none" stroke="#ff0000" stroke-width="1.1"/>
<circle cx="346.62" cy="132.71" r="2.45" fill="none" stroke="#ff0000" stroke-width="1.1"/>
<circle cx="380.1" cy="103.6" r="2.45" fill="none" stroke="#ff0000" stroke-width="1.1"/>
<circle cx="112.26" cy="135.72" r="2.35" fill="#ff0000"/>
<circle cx="145.74" cy="208.33" r="2.35" fill="#ff0000"/>
<circle cx="179.22" cy="249.82" r="2.35" fill="#ff0000"/>
<circle cx="212.7" cy="275.85" r="2.35" fill="#ff0000"/>
<circle cx="246.18" cy="292.71" r="2.35" fill="#ff0000"/>
<circle cx="279.66" cy="303.89" r="2.35" fill="#ff0000"/>
<circle cx="313.14" cy="311.72" r="2.35" fill="#ff0000"/>
<circle cx="346.62" cy="317.81" r="2.35" fill="#ff0000"/>
<circle cx="380.1" cy="321.75" r="2.35" fill="#ff0000"/>
<circle cx="45.3" cy="259.52" r="2.45" fill="none" stroke="#008000" stroke-width="1.1"/>
<circle cx="78.78" cy="244.4" r="2.45" fill="none" stroke="#008000" stroke-width="1.1"/>
<circle cx="112.26" cy="229.41" r="2.45" fill="none" stroke="#008000" stroke-width="1.1"/>
<circle cx="145.74" cy="214.01" r="2.45" fill="none" stroke="#008000" stroke-width="1.1"/>
<circle cx="179.22" cy="195.95" r="2.45" fill="none" stroke="#008000" stroke-width="1.1"/>
<circle cx="212.7" cy="175.2" r="2.45" fill="none" stroke="#008000" stroke-width="1.1"/>
<circle cx="246.18" cy="151.11" r="2.45" fill="none" stroke="#008000" stroke-width="1.1"/>
<circle cx="279.66" cy="122.67" r="2.45" fill="none" stroke="#008000" stroke-width="1.1"/>
<circle cx="313.14" cy="87.8" r="2.45" fill="none" stroke="#008000" stroke-width="1.1"/>
<circle cx="346.62" cy="44.04" r="2.45" fill="none" stroke="#008000" stroke-width="1.1"/>
<circle cx="112.26" cy="46.71" r="2.35" fill="#008000"/>
<circle cx="145.74" cy="161.82" r="2.35" fill="#008000"/>
<circle cx="179.22" cy="223.38" r="2.35" fill="#008000"/>
<circle cx="212.7" cy="259.52" r="2.35" fill="#008000"/>
<circle cx="246.18" cy="282.41" r="2.35" fill="#008000"/>
<circle cx="279.66" cy="297.06" r="2.35" fill="#008000"/>
<circle cx="313.14" cy="307.1" r="2.35" fill="#008000"/>
<circle cx="346.62" cy="314.39" r="2.35" fill="#008000"/>
<circle cx="380.1" cy="319.28" r="2.35" fill="#008000"/>
<circle cx="45.3" cy="247.47" r="2.45" fill="none" stroke="#0000ff" stroke-width="1.1"/>
<circle cx="78.78" cy="223.72" r="2.45" fill="none" stroke="#0000ff" stroke-width="1.1"/>
<circle cx="112.26" cy="200.23" r="2.45" fill="none" stroke="#0000ff" stroke-width="1.1"/>
<circle cx="145.74" cy="172.52" r="2.45" fill="none" stroke="#0000ff" stroke-width="1.1"/>
<circle cx="179.22" cy="143.75" r="2.45" fill="none" stroke="#0000ff" stroke-width="1.1"/>
<circle cx="212.7" cy="108.95" r="2.45" fill="none" stroke="#0000ff" stroke-width="1.1"/>
<circle cx="246.18" cy="67.12" r="2.45" fill="none" stroke="#0000ff" stroke-width="1.1"/>
<circle cx="279.66" cy="15.93" r="2.45" fill="none" stroke="#0000ff" stroke-width="1.1"/>
<circle cx="145.74" cy="89.54" r="2.35" fill="#0000ff"/>
<circle cx="179.22" cy="184.57" r="2.35" fill="#0000ff"/>
<circle cx="212.7" cy="237.44" r="2.35" fill="#0000ff"/>
<circle cx="246.18" cy="268.55" r="2.35" fill="#0000ff"/>
<circle cx="279.66" cy="288.03" r="2.35" fill="#0000ff"/>
<circle cx="313.14" cy="301.21" r="2.35" fill="#0000ff"/>
<circle cx="346.62" cy="309.98" r="2.35" fill="#0000ff"/>
<circle cx="380.1" cy="316.8" r="2.35" fill="#0000ff"/>
<circle cx="45.3" cy="235.43" r="2.45" fill="none" stroke="#800080" stroke-width="1.1"/>
<circle cx="78.78" cy="199.29" r="2.45" fill="none" stroke="#800080" stroke-width="1.1"/>
<circle cx="112.26" cy="164.16" r="2.45" fill="none" stroke="#800080" stroke-width="1.1"/>
<circle cx="145.74" cy="116.31" r="2.45" fill="none" stroke="#800080" stroke-width="1.1"/>
<circle cx="179.22" cy="56.75" r="2.45" fill="none" stroke="#800080" stroke-width="1.1"/>
<circle cx="179.22" cy="126.35" r="2.35" fill="#800080"/>
<circle cx="212.7" cy="203.98" r="2.35" fill="#800080"/>
<circle cx="246.18" cy="249.01" r="2.35" fill="#800080"/>
<circle cx="279.66" cy="276.58" r="2.35" fill="#800080"/>
<circle cx="313.14" cy="293.45" r="2.35" fill="#800080"/>
<circle cx="346.62" cy="305.09" r="2.35" fill="#800080"/>
<circle cx="380.1" cy="314.13" r="2.35" fill="#800080"/>
<path d="M157.97 77.5 H177.17 M167.57 67.9 V87.1" stroke="#800080" stroke-width="3.0" fill="none"/>
<path d="M158.47 153.12 H177.67 M168.07 143.52 V162.72" stroke="#0000ff" stroke-width="3.0" fill="none"/>
<path d="M157.23 201.97 H176.43 M166.83 192.37 V211.57" stroke="#008000" stroke-width="3.0" fill="none"/>
<path d="M155.56 233.42 H174.76 M165.16 223.82 V243.02" stroke="#ff0000" stroke-width="3.0" fill="none"/>
<path d="M144.84 300.01 H164.04 M154.44 290.41 V309.61" stroke="#000000" stroke-width="3.0" fill="none"/>
<rect x="45.3" y="7.9" width="334.8" height="334.6" fill="none" stroke="#1a1a1a" stroke-width="1.3"/>
<path d="M78.78 342.5v-4.8 M78.78 7.9v4.8 M112.26 342.5v-4.8 M112.26 7.9v4.8 M145.74 342.5v-4.8 M145.74 7.9v4.8 M179.22 342.5v-4.8 M179.22 7.9v4.8 M212.7 342.5v-4.8 M212.7 7.9v4.8 M246.18 342.5v-4.8 M246.18 7.9v4.8 M279.66 342.5v-4.8 M279.66 7.9v4.8 M313.14 342.5v-4.8 M313.14 7.9v4.8 M346.62 342.5v-4.8 M346.62 7.9v4.8 M45.3 309.04h2.2 M380.1 309.04h-2.2 M45.3 275.58h4.5 M380.1 275.58h-4.5 M45.3 242.12h2.2 M380.1 242.12h-2.2 M45.3 208.66h4.5 M380.1 208.66h-4.5 M45.3 175.2h2.2 M380.1 175.2h-2.2 M45.3 141.74h4.5 M380.1 141.74h-4.5 M45.3 108.28h2.2 M380.1 108.28h-2.2 M45.3 74.82h4.5 M380.1 74.82h-4.5 M45.3 41.36h2.2 M380.1 41.36h-2.2 " stroke="#1a1a1a" stroke-width="1.2" fill="none"/>
<path d="M267.8 223.2H305.4" stroke="#000" stroke-width="1.15" stroke-dasharray="10.3 3.7" fill="none"/>
<circle cx="286.6" cy="223.2" r="2.45" fill="none" stroke="#000" stroke-width="1"/>
<path d="M267.8 256.3H305.4" stroke="#000" stroke-width="1.15" fill="none"/>
<circle cx="286.6" cy="256.3" r="2.35" fill="#000"/>
<g transform="translate(315.1 229.9)" font-family="Liberation Serif, serif" font-size="26" fill="#000" color="#000"><path d="M12.91 -13.38 L0.53 3.37" stroke="currentColor" stroke-width="1.61" stroke-linecap="round" fill="none"/><path d="M2.26 -10.35 C2.53 -12.84 4.66 -14.27 5.59 -12.13 C6.26 -9.99 6.66 -4.11 7.19 -0.37 C7.72 3.01 9.05 3.9 10.38 2.65 C11.32 1.76 11.85 0.69 12.25 -0.55" stroke="currentColor" stroke-width="1.3" stroke-linecap="round" fill="none"/><text transform="translate(14.69 -15.99) scale(1 1.04)" font-size="16.12" font-style="italic">s</text><text x="20.96" y="-1.82">(</text><text transform="translate(28.58 0) skewX(-8) scale(1 1.07)" font-style="italic" font-weight="bold">Q</text><text x="48.39" y="-1.82">)</text></g>
<g transform="translate(315.1 264)" font-family="Liberation Serif, serif" font-size="26" fill="#000" color="#000"><path d="M12.91 -13.38 L0.53 3.37" stroke="currentColor" stroke-width="1.61" stroke-linecap="round" fill="none"/><path d="M2.26 -10.35 C2.53 -12.84 4.66 -14.27 5.59 -12.13 C6.26 -9.99 6.66 -4.11 7.19 -0.37 C7.72 3.01 9.05 3.9 10.38 2.65 C11.32 1.76 11.85 0.69 12.25 -0.55" stroke="currentColor" stroke-width="1.3" stroke-linecap="round" fill="none"/><text transform="translate(14.69 -15.99) scale(1 1.04)" font-size="16.12" font-style="italic">Q</text><text x="27.24" y="-1.82">(</text><text transform="translate(34.86 0) skewX(-8) scale(1 1.07)" font-style="italic" font-weight="bold">Q</text><text x="54.67" y="-1.82">)</text></g>
<path d="M436.7 259.85 L438.38 259.66 L440.07 259.46 L441.75 259.26 L443.43 259.06 L445.11 258.86 L446.8 258.65 L448.48 258.45 L450.16 258.25 L451.85 258.04 L453.53 257.84 L455.21 257.63 L456.89 257.43 L458.58 257.22 L460.26 257.02 L461.94 256.82 L463.63 256.61 L465.31 256.41 L466.99 256.21 L468.68 256.02 L470.36 255.82 L472.04 255.62 L473.72 255.43 L475.41 255.24 L477.09 255.04 L478.77 254.84 L480.46 254.64 L482.14 254.44 L483.82 254.23 L485.5 254.02 L487.19 253.8 L488.87 253.57 L490.55 253.34 L492.24 253.1 L493.92 252.86 L495.6 252.62 L497.28 252.38 L498.97 252.14 L500.65 251.9 L502.33 251.67 L504.02 251.44 L505.7 251.23 L507.38 251.01 L509.07 250.81 L510.75 250.61 L512.43 250.41 L514.11 250.21 L515.8 250.02 L517.48 249.82 L519.16 249.63 L520.85 249.43 L522.53 249.23 L524.21 249.03 L525.89 248.83 L527.58 248.63 L529.26 248.42 L530.94 248.22 L532.63 248.02 L534.31 247.81 L535.99 247.61 L537.67 247.41 L539.36 247.22 L541.04 247.02 L542.72 246.83 L544.41 246.63 L546.09 246.44 L547.77 246.24 L549.46 246.03 L551.14 245.82 L552.82 245.61 L554.5 245.39 L556.19 245.16 L557.87 244.93 L559.55 244.69 L561.24 244.45 L562.92 244.21 L564.6 243.96 L566.28 243.73 L567.97 243.49 L569.65 243.26 L571.33 243.04 L573.02 242.82 L574.7 242.61 L576.38 242.4 L578.06 242.2 L579.75 242 L581.43 241.81 L583.11 241.61 L584.8 241.42 L586.48 241.22 L588.16 241.03 L589.85 240.83 L591.53 240.62 L593.21 240.42 L594.89 240.2 L596.58 239.99 L598.26 239.77 L599.94 239.54 L601.63 239.3 L603.31 239.06 L604.99 238.82 L606.67 238.56 L608.36 238.31 L610.04 238.04 L611.72 237.78 L613.41 237.52 L615.09 237.27 L616.77 237.01 L618.45 236.77 L620.14 236.53 L621.82 236.31 L623.5 236.1 L625.19 235.89 L626.87 235.69 L628.55 235.5 L630.24 235.31 L631.92 235.11 L633.6 234.92 L635.28 234.72 L636.97 234.51 L638.65 234.29 L640.33 234.07 L642.02 233.83 L643.7 233.59 L645.38 233.35 L647.06 233.11 L648.75 232.86 L650.43 232.62 L652.11 232.39 L653.8 232.16 L655.48 231.94 L657.16 231.73 L658.84 231.52 L660.53 231.33 L662.21 231.13 L663.89 230.94 L665.58 230.74 L667.26 230.54 L668.94 230.34 L670.63 230.14 L672.31 229.92 L673.99 229.7 L675.67 229.48 L677.36 229.24 L679.04 229.01 L680.72 228.77 L682.41 228.52 L684.09 228.28 L685.77 228.04 L687.45 227.79 L689.14 227.55 L690.82 227.31 L692.5 227.07 L694.19 226.84 L695.87 226.6 L697.55 226.37 L699.23 226.14 L700.92 225.9 L702.6 225.67 L704.28 225.44 L705.97 225.2 L707.65 224.97 L709.33 224.73 L711.02 224.5 L712.7 224.26 L714.38 224.03 L716.06 223.79 L717.75 223.56 L719.43 223.32 L721.11 223.08 L722.8 222.85 L724.48 222.61 L726.16 222.38 L727.84 222.14 L729.53 221.91 L731.21 221.67 L732.89 221.43 L734.58 221.2 L736.26 220.96 L737.94 220.73 L739.62 220.49 L741.31 220.26 L742.99 220.02 L744.67 219.79 L746.36 219.55 L748.04 219.32 L749.72 219.08 L751.41 218.85 L753.09 218.61 L754.77 218.38 L756.45 218.14 L758.14 217.9 L759.82 217.67 L761.5 217.43 L763.19 217.2 L764.87 216.96 L766.55 216.73 L768.23 216.49 L769.92 216.26 L771.6 216.02" fill="none" stroke="#000000" stroke-width="1.15" stroke-dasharray="10.3 3.7" clip-path="url(#cb)"/>
<path d="M436.7 193.94 L438.38 195.83 L440.07 197.71 L441.75 199.55 L443.43 201.38 L445.11 203.18 L446.8 204.95 L448.48 206.69 L450.16 208.41 L451.85 210.1 L453.53 211.75 L455.21 213.38 L456.89 214.97 L458.58 216.53 L460.26 218.06 L461.94 219.56 L463.63 221.02 L465.31 222.45 L466.99 223.84 L468.68 225.2 L470.36 226.52 L472.04 227.81 L473.72 229.07 L475.41 230.29 L477.09 231.49 L478.77 232.67 L480.46 233.82 L482.14 234.96 L483.82 236.07 L485.5 237.18 L487.19 238.27 L488.87 239.35 L490.55 240.42 L492.24 241.48 L493.92 242.53 L495.6 243.57 L497.28 244.6 L498.97 245.63 L500.65 246.65 L502.33 247.67 L504.02 248.68 L505.7 249.68 L507.38 250.68 L509.07 251.66 L510.75 252.63 L512.43 253.59 L514.11 254.53 L515.8 255.44 L517.48 256.34 L519.16 257.21 L520.85 258.06 L522.53 258.87 L524.21 259.67 L525.89 260.44 L527.58 261.2 L529.26 261.93 L530.94 262.65 L532.63 263.36 L534.31 264.05 L535.99 264.73 L537.67 265.41 L539.36 266.08 L541.04 266.74 L542.72 267.39 L544.41 268.04 L546.09 268.68 L547.77 269.31 L549.46 269.93 L551.14 270.55 L552.82 271.17 L554.5 271.78 L556.19 272.38 L557.87 272.97 L559.55 273.56 L561.24 274.14 L562.92 274.72 L564.6 275.28 L566.28 275.84 L567.97 276.39 L569.65 276.93 L571.33 277.46 L573.02 277.99 L574.7 278.5 L576.38 279.01 L578.06 279.52 L579.75 280.02 L581.43 280.51 L583.11 281.01 L584.8 281.5 L586.48 282 L588.16 282.5 L589.85 282.99 L591.53 283.49 L593.21 283.98 L594.89 284.46 L596.58 284.94 L598.26 285.41 L599.94 285.87 L601.63 286.32 L603.31 286.75 L604.99 287.16 L606.67 287.56 L608.36 287.95 L610.04 288.32 L611.72 288.69 L613.41 289.05 L615.09 289.41 L616.77 289.76 L618.45 290.12 L620.14 290.48 L621.82 290.84 L623.5 291.2 L625.19 291.57 L626.87 291.94 L628.55 292.31 L630.24 292.68 L631.92 293.06 L633.6 293.43 L635.28 293.8 L636.97 294.17 L638.65 294.54 L640.33 294.9 L642.02 295.26 L643.7 295.61 L645.38 295.96 L647.06 296.3 L648.75 296.63 L650.43 296.95 L652.11 297.26 L653.8 297.56 L655.48 297.85 L657.16 298.13 L658.84 298.4 L660.53 298.67 L662.21 298.93 L663.89 299.19 L665.58 299.45 L667.26 299.71 L668.94 299.98 L670.63 300.26 L672.31 300.54 L673.99 300.83 L675.67 301.13 L677.36 301.43 L679.04 301.74 L680.72 302.05 L682.41 302.36 L684.09 302.67 L685.77 302.97 L687.45 303.28 L689.14 303.58 L690.82 303.87 L692.5 304.16 L694.19 304.44 L695.87 304.72 L697.55 304.99 L699.23 305.25 L700.92 305.5 L702.6 305.75 L704.28 305.98 L705.97 306.21 L707.65 306.43 L709.33 306.64 L711.02 306.84 L712.7 307.04 L714.38 307.24 L716.06 307.43 L717.75 307.62 L719.43 307.81 L721.11 308.01 L722.8 308.2 L724.48 308.4 L726.16 308.59 L727.84 308.79 L729.53 308.99 L731.21 309.2 L732.89 309.4 L734.58 309.61 L736.26 309.81 L737.94 310.02 L739.62 310.23 L741.31 310.44 L742.99 310.65 L744.67 310.86 L746.36 311.07 L748.04 311.27 L749.72 311.47 L751.41 311.67 L753.09 311.86 L754.77 312.04 L756.45 312.22 L758.14 312.39 L759.82 312.55 L761.5 312.7 L763.19 312.85 L764.87 312.98 L766.55 313.1 L768.23 313.21 L769.92 313.31 L771.6 313.39" fill="none" stroke="#000000" stroke-width="1.15" clip-path="url(#cb)"/>
<path d="M453.44 243.79 L455.04 243.56 L456.64 243.32 L458.24 243.08 L459.84 242.83 L461.44 242.58 L463.04 242.32 L464.64 242.06 L466.24 241.79 L467.83 241.52 L469.43 241.25 L471.03 240.97 L472.63 240.69 L474.23 240.41 L475.83 240.12 L477.43 239.83 L479.03 239.55 L480.62 239.26 L482.22 238.96 L483.82 238.67 L485.42 238.38 L487.02 238.09 L488.62 237.8 L490.22 237.51 L491.82 237.22 L493.41 236.93 L495.01 236.64 L496.61 236.35 L498.21 236.06 L499.81 235.78 L501.41 235.49 L503.01 235.21 L504.61 234.93 L506.2 234.65 L507.8 234.37 L509.4 234.09 L511 233.81 L512.6 233.53 L514.2 233.24 L515.8 232.95 L517.4 232.66 L518.99 232.36 L520.59 232.05 L522.19 231.74 L523.79 231.42 L525.39 231.1 L526.99 230.77 L528.59 230.44 L530.19 230.12 L531.78 229.79 L533.38 229.47 L534.98 229.16 L536.58 228.85 L538.18 228.55 L539.78 228.25 L541.38 227.96 L542.98 227.68 L544.57 227.4 L546.17 227.12 L547.77 226.84 L549.37 226.56 L550.97 226.27 L552.57 225.98 L554.17 225.68 L555.77 225.37 L557.36 225.05 L558.96 224.73 L560.56 224.41 L562.16 224.08 L563.76 223.75 L565.36 223.43 L566.96 223.1 L568.56 222.79 L570.16 222.48 L571.75 222.17 L573.35 221.88 L574.95 221.59 L576.55 221.31 L578.15 221.02 L579.75 220.74 L581.35 220.46 L582.95 220.18 L584.54 219.9 L586.14 219.6 L587.74 219.3 L589.34 219 L590.94 218.68 L592.54 218.36 L594.14 218.03 L595.74 217.71 L597.33 217.38 L598.93 217.05 L600.53 216.73 L602.13 216.41 L603.73 216.1 L605.33 215.8 L606.93 215.5 L608.53 215.21 L610.12 214.93 L611.72 214.64 L613.32 214.36 L614.92 214.08 L616.52 213.8 L618.12 213.52 L619.72 213.23 L621.32 212.93 L622.91 212.63 L624.51 212.32 L626.11 212.01 L627.71 211.69 L629.31 211.37 L630.91 211.04 L632.51 210.71 L634.11 210.39 L635.7 210.06 L637.3 209.73 L638.9 209.41 L640.5 209.08 L642.1 208.76 L643.7 208.44 L645.3 208.13 L646.9 207.81 L648.49 207.49 L650.09 207.17 L651.69 206.85 L653.29 206.54 L654.89 206.22 L656.49 205.9 L658.09 205.58 L659.69 205.26 L661.28 204.93 L662.88 204.61 L664.48 204.29 L666.08 203.97 L667.68 203.65 L669.28 203.34 L670.88 203.02 L672.48 202.71 L674.08 202.4 L675.67 202.08 L677.27 201.77 L678.87 201.46 L680.47 201.14 L682.07 200.82 L683.67 200.5 L685.27 200.17 L686.87 199.84 L688.46 199.5 L690.06 199.15 L691.66 198.8 L693.26 198.45 L694.86 198.09 L696.46 197.73 L698.06 197.38 L699.66 197.02 L701.25 196.67 L702.85 196.32 L704.45 195.98 L706.05 195.65 L707.65 195.32 L709.25 195 L710.85 194.68 L712.45 194.37 L714.04 194.06 L715.64 193.74 L717.24 193.43 L718.84 193.11 L720.44 192.79 L722.04 192.46 L723.64 192.13 L725.24 191.78 L726.83 191.44 L728.43 191.09 L730.03 190.73 L731.63 190.38 L733.23 190.02 L734.83 189.66 L736.43 189.3 L738.03 188.94 L739.62 188.58 L741.22 188.22 L742.82 187.86 L744.42 187.51 L746.02 187.15 L747.62 186.8 L749.22 186.45 L750.82 186.1 L752.41 185.76 L754.01 185.42 L755.61 185.08 L757.21 184.74 L758.81 184.41 L760.41 184.08 L762.01 183.75 L763.61 183.43 L765.2 183.12 L766.8 182.8 L768.4 182.49 L770 182.19 L771.6 181.89" fill="none" stroke="#ff0000" stroke-width="1.15" stroke-dasharray="10.3 3.7" clip-path="url(#cb)"/>
<path d="M453.44 98.91 L455.04 104.64 L456.64 110.12 L458.24 115.35 L459.84 120.36 L461.44 125.16 L463.04 129.75 L464.64 134.15 L466.24 138.37 L467.83 142.42 L469.43 146.31 L471.03 150.05 L472.63 153.64 L474.23 157.1 L475.83 160.43 L477.43 163.63 L479.03 166.73 L480.62 169.71 L482.22 172.6 L483.82 175.38 L485.42 178.08 L487.02 180.69 L488.62 183.22 L490.22 185.67 L491.82 188.05 L493.41 190.37 L495.01 192.63 L496.61 194.83 L498.21 196.97 L499.81 199.07 L501.41 201.13 L503.01 203.14 L504.61 205.12 L506.2 207.06 L507.8 208.96 L509.4 210.83 L511 212.66 L512.6 214.45 L514.2 216.21 L515.8 217.93 L517.4 219.62 L518.99 221.27 L520.59 222.88 L522.19 224.46 L523.79 226 L525.39 227.51 L526.99 228.99 L528.59 230.44 L530.19 231.86 L531.78 233.26 L533.38 234.63 L534.98 235.97 L536.58 237.29 L538.18 238.59 L539.78 239.86 L541.38 241.12 L542.98 242.35 L544.57 243.56 L546.17 244.74 L547.77 245.9 L549.37 247.04 L550.97 248.16 L552.57 249.25 L554.17 250.32 L555.77 251.36 L557.36 252.38 L558.96 253.38 L560.56 254.36 L562.16 255.33 L563.76 256.27 L565.36 257.2 L566.96 258.12 L568.56 259.02 L570.16 259.91 L571.75 260.79 L573.35 261.66 L574.95 262.51 L576.55 263.36 L578.15 264.2 L579.75 265.03 L581.35 265.85 L582.95 266.66 L584.54 267.47 L586.14 268.26 L587.74 269.05 L589.34 269.84 L590.94 270.61 L592.54 271.38 L594.14 272.13 L595.74 272.88 L597.33 273.61 L598.93 274.33 L600.53 275.04 L602.13 275.73 L603.73 276.41 L605.33 277.07 L606.93 277.72 L608.53 278.35 L610.12 278.97 L611.72 279.58 L613.32 280.18 L614.92 280.78 L616.52 281.36 L618.12 281.94 L619.72 282.52 L621.32 283.09 L622.91 283.66 L624.51 284.23 L626.11 284.79 L627.71 285.34 L629.31 285.89 L630.91 286.43 L632.51 286.97 L634.11 287.49 L635.7 288.01 L637.3 288.52 L638.9 289.02 L640.5 289.51 L642.1 289.99 L643.7 290.46 L645.3 290.92 L646.9 291.37 L648.49 291.81 L650.09 292.23 L651.69 292.65 L653.29 293.05 L654.89 293.44 L656.49 293.81 L658.09 294.18 L659.69 294.54 L661.28 294.89 L662.88 295.23 L664.48 295.58 L666.08 295.92 L667.68 296.26 L669.28 296.6 L670.88 296.94 L672.48 297.29 L674.08 297.64 L675.67 297.99 L677.27 298.34 L678.87 298.69 L680.47 299.05 L682.07 299.4 L683.67 299.76 L685.27 300.11 L686.87 300.46 L688.46 300.8 L690.06 301.14 L691.66 301.48 L693.26 301.82 L694.86 302.15 L696.46 302.47 L698.06 302.79 L699.66 303.1 L701.25 303.4 L702.85 303.7 L704.45 303.99 L706.05 304.27 L707.65 304.55 L709.25 304.82 L710.85 305.08 L712.45 305.34 L714.04 305.59 L715.64 305.84 L717.24 306.08 L718.84 306.32 L720.44 306.56 L722.04 306.8 L723.64 307.03 L725.24 307.27 L726.83 307.5 L728.43 307.73 L730.03 307.95 L731.63 308.17 L733.23 308.39 L734.83 308.61 L736.43 308.82 L738.03 309.03 L739.62 309.23 L741.22 309.43 L742.82 309.63 L744.42 309.82 L746.02 310.02 L747.62 310.21 L749.22 310.39 L750.82 310.58 L752.41 310.77 L754.01 310.95 L755.61 311.14 L757.21 311.32 L758.81 311.51 L760.41 311.69 L762.01 311.88 L763.61 312.07 L765.2 312.26 L766.8 312.46 L768.4 312.65 L770 312.85 L771.6 313.06" fill="none" stroke="#ff0000" stroke-width="1.15" clip-path="url(#cb)"/>
<path d="M520.42 210.67 L521.69 210.36 L522.95 210.05 L524.21 209.73 L525.47 209.42 L526.74 209.09 L528 208.77 L529.26 208.44 L530.52 208.11 L531.78 207.77 L533.05 207.44 L534.31 207.1 L535.57 206.75 L536.83 206.41 L538.1 206.06 L539.36 205.72 L540.62 205.37 L541.88 205.02 L543.14 204.66 L544.41 204.31 L545.67 203.96 L546.93 203.6 L548.19 203.25 L549.46 202.89 L550.72 202.53 L551.98 202.18 L553.24 201.82 L554.5 201.47 L555.77 201.11 L557.03 200.76 L558.29 200.41 L559.55 200.05 L560.81 199.7 L562.08 199.35 L563.34 198.99 L564.6 198.64 L565.86 198.29 L567.13 197.94 L568.39 197.58 L569.65 197.23 L570.91 196.88 L572.17 196.53 L573.44 196.17 L574.7 195.82 L575.96 195.47 L577.22 195.11 L578.49 194.76 L579.75 194.4 L581.01 194.05 L582.27 193.7 L583.53 193.35 L584.8 192.99 L586.06 192.64 L587.32 192.29 L588.58 191.94 L589.85 191.58 L591.11 191.23 L592.37 190.88 L593.63 190.53 L594.89 190.18 L596.16 189.83 L597.42 189.47 L598.68 189.12 L599.94 188.77 L601.2 188.41 L602.47 188.06 L603.73 187.7 L604.99 187.34 L606.25 186.98 L607.52 186.62 L608.78 186.26 L610.04 185.9 L611.3 185.54 L612.56 185.19 L613.83 184.83 L615.09 184.48 L616.35 184.13 L617.61 183.78 L618.88 183.44 L620.14 183.1 L621.4 182.76 L622.66 182.43 L623.92 182.11 L625.19 181.79 L626.45 181.47 L627.71 181.15 L628.97 180.83 L630.24 180.51 L631.5 180.18 L632.76 179.86 L634.02 179.53 L635.28 179.19 L636.55 178.85 L637.81 178.5 L639.07 178.14 L640.33 177.78 L641.59 177.4 L642.86 177.03 L644.12 176.65 L645.38 176.26 L646.64 175.88 L647.91 175.49 L649.17 175.1 L650.43 174.72 L651.69 174.33 L652.95 173.95 L654.22 173.58 L655.48 173.21 L656.74 172.84 L658 172.48 L659.27 172.13 L660.53 171.77 L661.79 171.42 L663.05 171.08 L664.31 170.73 L665.58 170.38 L666.84 170.04 L668.1 169.69 L669.36 169.34 L670.63 168.98 L671.89 168.63 L673.15 168.27 L674.41 167.91 L675.67 167.54 L676.94 167.17 L678.2 166.8 L679.46 166.42 L680.72 166.04 L681.98 165.66 L683.25 165.27 L684.51 164.88 L685.77 164.49 L687.03 164.09 L688.3 163.69 L689.56 163.29 L690.82 162.88 L692.08 162.48 L693.34 162.07 L694.61 161.66 L695.87 161.25 L697.13 160.84 L698.39 160.44 L699.66 160.03 L700.92 159.63 L702.18 159.23 L703.44 158.84 L704.7 158.44 L705.97 158.06 L707.23 157.68 L708.49 157.3 L709.75 156.92 L711.02 156.55 L712.28 156.17 L713.54 155.8 L714.8 155.43 L716.06 155.05 L717.33 154.68 L718.59 154.3 L719.85 153.92 L721.11 153.53 L722.37 153.14 L723.64 152.74 L724.9 152.34 L726.16 151.94 L727.42 151.53 L728.69 151.12 L729.95 150.72 L731.21 150.31 L732.47 149.9 L733.73 149.49 L735 149.08 L736.26 148.68 L737.52 148.28 L738.78 147.89 L740.05 147.5 L741.31 147.11 L742.57 146.73 L743.83 146.35 L745.09 145.97 L746.36 145.59 L747.62 145.22 L748.88 144.85 L750.14 144.47 L751.41 144.1 L752.67 143.73 L753.93 143.35 L755.19 142.98 L756.45 142.6 L757.72 142.22 L758.98 141.84 L760.24 141.45 L761.5 141.06 L762.76 140.67 L764.03 140.27 L765.29 139.86 L766.55 139.45 L767.81 139.03 L769.08 138.6 L770.34 138.17 L771.6 137.72" fill="none" stroke="#008000" stroke-width="1.15" stroke-dasharray="10.3 3.7" clip-path="url(#cb)"/>
<path d="M520.42 120.66 L521.69 125.43 L522.95 129.97 L524.21 134.3 L525.47 138.44 L526.74 142.4 L528 146.19 L529.26 149.81 L530.52 153.29 L531.78 156.63 L533.05 159.84 L534.31 162.93 L535.57 165.9 L536.83 168.76 L538.1 171.53 L539.36 174.21 L540.62 176.8 L541.88 179.31 L543.14 181.75 L544.41 184.12 L545.67 186.42 L546.93 188.68 L548.19 190.87 L549.46 193.02 L550.72 195.13 L551.98 197.19 L553.24 199.23 L554.5 201.22 L555.77 203.19 L557.03 205.13 L558.29 207.03 L559.55 208.9 L560.81 210.73 L562.08 212.53 L563.34 214.29 L564.6 216.01 L565.86 217.69 L567.13 219.33 L568.39 220.94 L569.65 222.5 L570.91 224.02 L572.17 225.5 L573.44 226.94 L574.7 228.34 L575.96 229.72 L577.22 231.06 L578.49 232.38 L579.75 233.67 L581.01 234.94 L582.27 236.19 L583.53 237.43 L584.8 238.64 L586.06 239.85 L587.32 241.04 L588.58 242.22 L589.85 243.39 L591.11 244.54 L592.37 245.69 L593.63 246.82 L594.89 247.93 L596.16 249.02 L597.42 250.1 L598.68 251.16 L599.94 252.2 L601.2 253.22 L602.47 254.21 L603.73 255.18 L604.99 256.13 L606.25 257.06 L607.52 257.97 L608.78 258.86 L610.04 259.72 L611.3 260.57 L612.56 261.41 L613.83 262.22 L615.09 263.02 L616.35 263.81 L617.61 264.59 L618.88 265.35 L620.14 266.1 L621.4 266.84 L622.66 267.57 L623.92 268.29 L625.19 269 L626.45 269.71 L627.71 270.4 L628.97 271.09 L630.24 271.76 L631.5 272.43 L632.76 273.09 L634.02 273.75 L635.28 274.39 L636.55 275.03 L637.81 275.66 L639.07 276.29 L640.33 276.91 L641.59 277.52 L642.86 278.12 L644.12 278.72 L645.38 279.3 L646.64 279.89 L647.91 280.46 L649.17 281.02 L650.43 281.58 L651.69 282.13 L652.95 282.67 L654.22 283.21 L655.48 283.73 L656.74 284.25 L658 284.76 L659.27 285.26 L660.53 285.75 L661.79 286.24 L663.05 286.72 L664.31 287.19 L665.58 287.66 L666.84 288.12 L668.1 288.57 L669.36 289.02 L670.63 289.46 L671.89 289.89 L673.15 290.32 L674.41 290.75 L675.67 291.17 L676.94 291.58 L678.2 291.99 L679.46 292.39 L680.72 292.79 L681.98 293.19 L683.25 293.58 L684.51 293.97 L685.77 294.35 L687.03 294.73 L688.3 295.11 L689.56 295.49 L690.82 295.86 L692.08 296.22 L693.34 296.59 L694.61 296.95 L695.87 297.3 L697.13 297.66 L698.39 298.01 L699.66 298.35 L700.92 298.69 L702.18 299.03 L703.44 299.36 L704.7 299.69 L705.97 300.02 L707.23 300.34 L708.49 300.66 L709.75 300.97 L711.02 301.28 L712.28 301.59 L713.54 301.89 L714.8 302.19 L716.06 302.49 L717.33 302.78 L718.59 303.07 L719.85 303.35 L721.11 303.63 L722.37 303.91 L723.64 304.18 L724.9 304.45 L726.16 304.72 L727.42 304.98 L728.69 305.24 L729.95 305.49 L731.21 305.74 L732.47 305.99 L733.73 306.23 L735 306.46 L736.26 306.7 L737.52 306.93 L738.78 307.15 L740.05 307.37 L741.31 307.59 L742.57 307.8 L743.83 308.01 L745.09 308.22 L746.36 308.42 L747.62 308.62 L748.88 308.81 L750.14 309.01 L751.41 309.2 L752.67 309.39 L753.93 309.57 L755.19 309.76 L756.45 309.94 L757.72 310.12 L758.98 310.3 L760.24 310.48 L761.5 310.66 L762.76 310.83 L764.03 311.01 L765.29 311.18 L766.55 311.36 L767.81 311.53 L769.08 311.71 L770.34 311.88 L771.6 312.05" fill="none" stroke="#008000" stroke-width="1.15" clip-path="url(#cb)"/>
<path d="M570.66 170.85 L571.67 170.36 L572.68 169.87 L573.69 169.37 L574.7 168.86 L575.71 168.34 L576.72 167.83 L577.73 167.3 L578.74 166.78 L579.75 166.25 L580.76 165.71 L581.77 165.18 L582.78 164.64 L583.79 164.1 L584.8 163.55 L585.81 163.01 L586.82 162.47 L587.83 161.92 L588.84 161.38 L589.85 160.84 L590.85 160.3 L591.86 159.76 L592.87 159.23 L593.88 158.7 L594.89 158.17 L595.9 157.65 L596.91 157.13 L597.92 156.62 L598.93 156.11 L599.94 155.61 L600.95 155.12 L601.96 154.64 L602.97 154.16 L603.98 153.7 L604.99 153.24 L606 152.79 L607.01 152.35 L608.02 151.92 L609.03 151.49 L610.04 151.08 L611.05 150.66 L612.06 150.25 L613.07 149.85 L614.08 149.45 L615.09 149.05 L616.1 148.65 L617.11 148.25 L618.12 147.86 L619.13 147.46 L620.14 147.06 L621.15 146.66 L622.16 146.25 L623.17 145.84 L624.18 145.43 L625.19 145.02 L626.2 144.6 L627.21 144.18 L628.22 143.76 L629.23 143.34 L630.24 142.91 L631.24 142.48 L632.25 142.05 L633.26 141.62 L634.27 141.19 L635.28 140.75 L636.29 140.32 L637.3 139.88 L638.31 139.44 L639.32 139 L640.33 138.56 L641.34 138.12 L642.35 137.67 L643.36 137.23 L644.37 136.79 L645.38 136.34 L646.39 135.9 L647.4 135.45 L648.41 135.01 L649.42 134.56 L650.43 134.12 L651.44 133.67 L652.45 133.22 L653.46 132.78 L654.47 132.33 L655.48 131.89 L656.49 131.44 L657.5 131 L658.51 130.56 L659.52 130.11 L660.53 129.67 L661.54 129.22 L662.55 128.78 L663.56 128.34 L664.57 127.89 L665.58 127.45 L666.59 127.01 L667.6 126.56 L668.61 126.12 L669.62 125.68 L670.63 125.23 L671.63 124.79 L672.64 124.34 L673.65 123.9 L674.66 123.45 L675.67 123.01 L676.68 122.56 L677.69 122.12 L678.7 121.68 L679.71 121.23 L680.72 120.79 L681.73 120.34 L682.74 119.9 L683.75 119.46 L684.76 119.01 L685.77 118.57 L686.78 118.13 L687.79 117.69 L688.8 117.24 L689.81 116.8 L690.82 116.36 L691.83 115.92 L692.84 115.48 L693.85 115.04 L694.86 114.6 L695.87 114.16 L696.88 113.72 L697.89 113.28 L698.9 112.83 L699.91 112.39 L700.92 111.94 L701.93 111.49 L702.94 111.04 L703.95 110.59 L704.96 110.14 L705.97 109.68 L706.98 109.22 L707.99 108.76 L709 108.3 L710.01 107.84 L711.02 107.37 L712.02 106.91 L713.03 106.44 L714.04 105.98 L715.05 105.51 L716.06 105.04 L717.07 104.57 L718.08 104.11 L719.09 103.64 L720.1 103.17 L721.11 102.71 L722.12 102.24 L723.13 101.78 L724.14 101.32 L725.15 100.86 L726.16 100.39 L727.17 99.93 L728.18 99.47 L729.19 99.01 L730.2 98.55 L731.21 98.09 L732.22 97.62 L733.23 97.16 L734.24 96.69 L735.25 96.23 L736.26 95.76 L737.27 95.29 L738.28 94.82 L739.29 94.34 L740.3 93.87 L741.31 93.39 L742.32 92.91 L743.33 92.43 L744.34 91.95 L745.35 91.46 L746.36 90.98 L747.37 90.49 L748.38 90.01 L749.39 89.52 L750.4 89.03 L751.41 88.54 L752.41 88.05 L753.42 87.56 L754.43 87.07 L755.44 86.58 L756.45 86.09 L757.46 85.6 L758.47 85.11 L759.48 84.62 L760.49 84.13 L761.5 83.64 L762.51 83.16 L763.52 82.67 L764.53 82.19 L765.54 81.7 L766.55 81.22 L767.56 80.74 L768.57 80.26 L769.58 79.78 L770.59 79.31 L771.6 78.84" fill="none" stroke="#0000ff" stroke-width="1.15" stroke-dasharray="10.3 3.7" clip-path="url(#cb)"/>
<path d="M570.66 72.48 L571.67 76.94 L572.68 81.37 L573.69 85.75 L574.7 90.09 L575.71 94.38 L576.72 98.63 L577.73 102.82 L578.74 106.96 L579.75 111.04 L580.76 115.06 L581.77 119.03 L582.78 122.94 L583.79 126.79 L584.8 130.58 L585.81 134.3 L586.82 137.96 L587.83 141.56 L588.84 145.09 L589.85 148.56 L590.85 151.96 L591.86 155.29 L592.87 158.56 L593.88 161.77 L594.89 164.9 L595.9 167.97 L596.91 170.98 L597.92 173.92 L598.93 176.79 L599.94 179.6 L600.95 182.34 L601.96 185.01 L602.97 187.63 L603.98 190.17 L604.99 192.66 L606 195.08 L607.01 197.44 L608.02 199.74 L609.03 201.98 L610.04 204.17 L611.05 206.3 L612.06 208.37 L613.07 210.4 L614.08 212.37 L615.09 214.28 L616.1 216.15 L617.11 217.97 L618.12 219.75 L619.13 221.47 L620.14 223.15 L621.15 224.79 L622.16 226.38 L623.17 227.94 L624.18 229.45 L625.19 230.92 L626.2 232.36 L627.21 233.76 L628.22 235.12 L629.23 236.46 L630.24 237.76 L631.24 239.03 L632.25 240.28 L633.26 241.49 L634.27 242.68 L635.28 243.85 L636.29 244.99 L637.3 246.1 L638.31 247.2 L639.32 248.27 L640.33 249.32 L641.34 250.35 L642.35 251.37 L643.36 252.36 L644.37 253.34 L645.38 254.3 L646.39 255.24 L647.4 256.17 L648.41 257.08 L649.42 257.98 L650.43 258.86 L651.44 259.73 L652.45 260.59 L653.46 261.43 L654.47 262.26 L655.48 263.09 L656.49 263.9 L657.5 264.69 L658.51 265.48 L659.52 266.25 L660.53 267.02 L661.54 267.76 L662.55 268.5 L663.56 269.22 L664.57 269.94 L665.58 270.63 L666.59 271.32 L667.6 271.99 L668.61 272.65 L669.62 273.3 L670.63 273.93 L671.63 274.55 L672.64 275.16 L673.65 275.75 L674.66 276.33 L675.67 276.91 L676.68 277.47 L677.69 278.03 L678.7 278.57 L679.71 279.11 L680.72 279.64 L681.73 280.17 L682.74 280.69 L683.75 281.21 L684.76 281.72 L685.77 282.23 L686.78 282.73 L687.79 283.23 L688.8 283.73 L689.81 284.23 L690.82 284.73 L691.83 285.22 L692.84 285.71 L693.85 286.19 L694.86 286.67 L695.87 287.15 L696.88 287.61 L697.89 288.07 L698.9 288.53 L699.91 288.98 L700.92 289.42 L701.93 289.85 L702.94 290.28 L703.95 290.7 L704.96 291.11 L705.97 291.51 L706.98 291.9 L707.99 292.29 L709 292.67 L710.01 293.04 L711.02 293.41 L712.02 293.77 L713.03 294.13 L714.04 294.48 L715.05 294.84 L716.06 295.18 L717.07 295.53 L718.08 295.88 L719.09 296.22 L720.1 296.57 L721.11 296.91 L722.12 297.25 L723.13 297.6 L724.14 297.94 L725.15 298.28 L726.16 298.62 L727.17 298.96 L728.18 299.29 L729.19 299.62 L730.2 299.95 L731.21 300.27 L732.22 300.59 L733.23 300.91 L734.24 301.22 L735.25 301.52 L736.26 301.82 L737.27 302.11 L738.28 302.39 L739.29 302.67 L740.3 302.94 L741.31 303.21 L742.32 303.47 L743.33 303.72 L744.34 303.97 L745.35 304.22 L746.36 304.46 L747.37 304.69 L748.38 304.93 L749.39 305.16 L750.4 305.38 L751.41 305.61 L752.41 305.83 L753.42 306.05 L754.43 306.27 L755.44 306.49 L756.45 306.71 L757.46 306.93 L758.47 307.14 L759.48 307.36 L760.49 307.58 L761.5 307.79 L762.51 308.01 L763.52 308.23 L764.53 308.45 L765.54 308.67 L766.55 308.89 L767.56 309.12 L768.57 309.35 L769.58 309.58 L770.59 309.81 L771.6 310.04" fill="none" stroke="#0000ff" stroke-width="1.15" clip-path="url(#cb)"/>
<circle cx="436.7" cy="259.85" r="2.45" fill="none" stroke="#000000" stroke-width="1.1"/>
<circle cx="453.44" cy="257.85" r="2.45" fill="none" stroke="#000000" stroke-width="1.1"/>
<circle cx="470.19" cy="255.84" r="2.45" fill="none" stroke="#000000" stroke-width="1.1"/>
<circle cx="486.94" cy="253.83" r="2.45" fill="none" stroke="#000000" stroke-width="1.1"/>
<circle cx="503.68" cy="251.49" r="2.45" fill="none" stroke="#000000" stroke-width="1.1"/>
<circle cx="520.42" cy="249.48" r="2.45" fill="none" stroke="#000000" stroke-width="1.1"/>
<circle cx="537.17" cy="247.47" r="2.45" fill="none" stroke="#000000" stroke-width="1.1"/>
<circle cx="553.91" cy="245.47" r="2.45" fill="none" stroke="#000000" stroke-width="1.1"/>
<circle cx="570.66" cy="243.12" r="2.45" fill="none" stroke="#000000" stroke-width="1.1"/>
<circle cx="587.4" cy="241.12" r="2.45" fill="none" stroke="#000000" stroke-width="1.1"/>
<circle cx="604.15" cy="238.94" r="2.45" fill="none" stroke="#000000" stroke-width="1.1"/>
<circle cx="620.89" cy="236.43" r="2.45" fill="none" stroke="#000000" stroke-width="1.1"/>
<circle cx="637.64" cy="234.42" r="2.45" fill="none" stroke="#000000" stroke-width="1.1"/>
<circle cx="654.38" cy="232.08" r="2.45" fill="none" stroke="#000000" stroke-width="1.1"/>
<circle cx="671.13" cy="230.07" r="2.45" fill="none" stroke="#000000" stroke-width="1.1"/>
<circle cx="687.88" cy="227.73" r="2.45" fill="none" stroke="#000000" stroke-width="1.1"/>
<circle cx="704.62" cy="225.39" r="2.45" fill="none" stroke="#000000" stroke-width="1.1"/>
<circle cx="721.37" cy="223.05" r="2.45" fill="none" stroke="#000000" stroke-width="1.1"/>
<circle cx="738.11" cy="220.71" r="2.45" fill="none" stroke="#000000" stroke-width="1.1"/>
<circle cx="754.86" cy="218.36" r="2.45" fill="none" stroke="#000000" stroke-width="1.1"/>
<circle cx="771.6" cy="216.02" r="2.45" fill="none" stroke="#000000" stroke-width="1.1"/>
<circle cx="436.7" cy="193.94" r="2.35" fill="#000000"/>
<circle cx="453.44" cy="211.67" r="2.35" fill="#000000"/>
<circle cx="470.19" cy="226.39" r="2.35" fill="#000000"/>
<circle cx="486.94" cy="238.1" r="2.35" fill="#000000"/>
<circle cx="503.68" cy="248.48" r="2.35" fill="#000000"/>
<circle cx="520.42" cy="257.85" r="2.35" fill="#000000"/>
<circle cx="537.17" cy="265.21" r="2.35" fill="#000000"/>
<circle cx="553.91" cy="271.56" r="2.35" fill="#000000"/>
<circle cx="570.66" cy="277.25" r="2.35" fill="#000000"/>
<circle cx="587.4" cy="282.27" r="2.35" fill="#000000"/>
<circle cx="604.15" cy="286.96" r="2.35" fill="#000000"/>
<circle cx="620.89" cy="290.64" r="2.35" fill="#000000"/>
<circle cx="637.64" cy="294.32" r="2.35" fill="#000000"/>
<circle cx="654.38" cy="297.66" r="2.35" fill="#000000"/>
<circle cx="671.13" cy="300.34" r="2.35" fill="#000000"/>
<circle cx="687.88" cy="303.35" r="2.35" fill="#000000"/>
<circle cx="704.62" cy="306.03" r="2.35" fill="#000000"/>
<circle cx="721.37" cy="308.04" r="2.35" fill="#000000"/>
<circle cx="738.11" cy="310.04" r="2.35" fill="#000000"/>
<circle cx="754.86" cy="312.05" r="2.35" fill="#000000"/>
<circle cx="771.6" cy="313.39" r="2.35" fill="#000000"/>
<circle cx="453.44" cy="243.79" r="2.45" fill="none" stroke="#ff0000" stroke-width="1.1"/>
<circle cx="470.19" cy="241.12" r="2.45" fill="none" stroke="#ff0000" stroke-width="1.1"/>
<circle cx="486.94" cy="238.1" r="2.45" fill="none" stroke="#ff0000" stroke-width="1.1"/>
<circle cx="503.68" cy="235.09" r="2.45" fill="none" stroke="#ff0000" stroke-width="1.1"/>
<circle cx="520.42" cy="232.08" r="2.45" fill="none" stroke="#ff0000" stroke-width="1.1"/>
<circle cx="537.17" cy="228.74" r="2.45" fill="none" stroke="#ff0000" stroke-width="1.1"/>
<circle cx="553.91" cy="225.72" r="2.45" fill="none" stroke="#ff0000" stroke-width="1.1"/>
<circle cx="570.66" cy="222.38" r="2.45" fill="none" stroke="#ff0000" stroke-width="1.1"/>
<circle cx="587.4" cy="219.37" r="2.45" fill="none" stroke="#ff0000" stroke-width="1.1"/>
<circle cx="604.15" cy="216.02" r="2.45" fill="none" stroke="#ff0000" stroke-width="1.1"/>
<circle cx="620.89" cy="213.01" r="2.45" fill="none" stroke="#ff0000" stroke-width="1.1"/>
<circle cx="637.64" cy="209.66" r="2.45" fill="none" stroke="#ff0000" stroke-width="1.1"/>
<circle cx="654.38" cy="206.32" r="2.45" fill="none" stroke="#ff0000" stroke-width="1.1"/>
<circle cx="671.13" cy="202.97" r="2.45" fill="none" stroke="#ff0000" stroke-width="1.1"/>
<circle cx="687.88" cy="199.63" r="2.45" fill="none" stroke="#ff0000" stroke-width="1.1"/>
<circle cx="704.62" cy="195.95" r="2.45" fill="none" stroke="#ff0000" stroke-width="1.1"/>
<circle cx="721.37" cy="192.6" r="2.45" fill="none" stroke="#ff0000" stroke-width="1.1"/>
<circle cx="738.11" cy="188.92" r="2.45" fill="none" stroke="#ff0000" stroke-width="1.1"/>
<circle cx="754.86" cy="185.24" r="2.45" fill="none" stroke="#ff0000" stroke-width="1.1"/>
<circle cx="771.6" cy="181.89" r="2.45" fill="none" stroke="#ff0000" stroke-width="1.1"/>
<circle cx="453.44" cy="98.91" r="2.35" fill="#ff0000"/>
<circle cx="470.19" cy="148.1" r="2.35" fill="#ff0000"/>
<circle cx="486.94" cy="180.55" r="2.35" fill="#ff0000"/>
<circle cx="503.68" cy="203.98" r="2.35" fill="#ff0000"/>
<circle cx="520.42" cy="222.71" r="2.35" fill="#ff0000"/>
<circle cx="537.17" cy="237.77" r="2.35" fill="#ff0000"/>
<circle cx="553.91" cy="250.15" r="2.35" fill="#ff0000"/>
<circle cx="570.66" cy="260.19" r="2.35" fill="#ff0000"/>
<circle cx="587.4" cy="268.89" r="2.35" fill="#ff0000"/>
<circle cx="604.15" cy="276.58" r="2.35" fill="#ff0000"/>
<circle cx="620.89" cy="282.94" r="2.35" fill="#ff0000"/>
<circle cx="637.64" cy="288.63" r="2.35" fill="#ff0000"/>
<circle cx="654.38" cy="293.31" r="2.35" fill="#ff0000"/>
<circle cx="671.13" cy="296.99" r="2.35" fill="#ff0000"/>
<circle cx="687.88" cy="300.68" r="2.35" fill="#ff0000"/>
<circle cx="704.62" cy="304.02" r="2.35" fill="#ff0000"/>
<circle cx="721.37" cy="306.7" r="2.35" fill="#ff0000"/>
<circle cx="738.11" cy="309.04" r="2.35" fill="#ff0000"/>
<circle cx="754.86" cy="311.05" r="2.35" fill="#ff0000"/>
<circle cx="771.6" cy="313.06" r="2.35" fill="#ff0000"/>
<circle cx="520.42" cy="210.67" r="2.45" fill="none" stroke="#008000" stroke-width="1.1"/>
<circle cx="537.17" cy="206.32" r="2.45" fill="none" stroke="#008000" stroke-width="1.1"/>
<circle cx="553.91" cy="201.63" r="2.45" fill="none" stroke="#008000" stroke-width="1.1"/>
<circle cx="570.66" cy="196.95" r="2.45" fill="none" stroke="#008000" stroke-width="1.1"/>
<circle cx="587.4" cy="192.26" r="2.45" fill="none" stroke="#008000" stroke-width="1.1"/>
<circle cx="604.15" cy="187.58" r="2.45" fill="none" stroke="#008000" stroke-width="1.1"/>
<circle cx="620.89" cy="182.9" r="2.45" fill="none" stroke="#008000" stroke-width="1.1"/>
<circle cx="637.64" cy="178.55" r="2.45" fill="none" stroke="#008000" stroke-width="1.1"/>
<circle cx="654.38" cy="173.53" r="2.45" fill="none" stroke="#008000" stroke-width="1.1"/>
<circle cx="671.13" cy="168.84" r="2.45" fill="none" stroke="#008000" stroke-width="1.1"/>
<circle cx="687.88" cy="163.82" r="2.45" fill="none" stroke="#008000" stroke-width="1.1"/>
<circle cx="704.62" cy="158.47" r="2.45" fill="none" stroke="#008000" stroke-width="1.1"/>
<circle cx="721.37" cy="153.45" r="2.45" fill="none" stroke="#008000" stroke-width="1.1"/>
<circle cx="738.11" cy="148.1" r="2.45" fill="none" stroke="#008000" stroke-width="1.1"/>
<circle cx="754.86" cy="143.08" r="2.45" fill="none" stroke="#008000" stroke-width="1.1"/>
<circle cx="771.6" cy="137.72" r="2.45" fill="none" stroke="#008000" stroke-width="1.1"/>
<circle cx="520.42" cy="120.66" r="2.35" fill="#008000"/>
<circle cx="537.17" cy="169.51" r="2.35" fill="#008000"/>
<circle cx="553.91" cy="200.29" r="2.35" fill="#008000"/>
<circle cx="570.66" cy="223.72" r="2.35" fill="#008000"/>
<circle cx="587.4" cy="241.12" r="2.35" fill="#008000"/>
<circle cx="604.15" cy="255.5" r="2.35" fill="#008000"/>
<circle cx="620.89" cy="266.55" r="2.35" fill="#008000"/>
<circle cx="637.64" cy="275.58" r="2.35" fill="#008000"/>
<circle cx="654.38" cy="283.28" r="2.35" fill="#008000"/>
<circle cx="671.13" cy="289.63" r="2.35" fill="#008000"/>
<circle cx="687.88" cy="294.99" r="2.35" fill="#008000"/>
<circle cx="704.62" cy="299.67" r="2.35" fill="#008000"/>
<circle cx="721.37" cy="303.69" r="2.35" fill="#008000"/>
<circle cx="738.11" cy="307.03" r="2.35" fill="#008000"/>
<circle cx="754.86" cy="309.71" r="2.35" fill="#008000"/>
<circle cx="771.6" cy="312.05" r="2.35" fill="#008000"/>
<circle cx="570.66" cy="170.85" r="2.45" fill="none" stroke="#0000ff" stroke-width="1.1"/>
<circle cx="587.4" cy="162.15" r="2.45" fill="none" stroke="#0000ff" stroke-width="1.1"/>
<circle cx="604.15" cy="153.62" r="2.45" fill="none" stroke="#0000ff" stroke-width="1.1"/>
<circle cx="620.89" cy="146.76" r="2.45" fill="none" stroke="#0000ff" stroke-width="1.1"/>
<circle cx="637.64" cy="139.73" r="2.45" fill="none" stroke="#0000ff" stroke-width="1.1"/>
<circle cx="654.38" cy="132.37" r="2.45" fill="none" stroke="#0000ff" stroke-width="1.1"/>
<circle cx="671.13" cy="125.01" r="2.45" fill="none" stroke="#0000ff" stroke-width="1.1"/>
<circle cx="687.88" cy="117.65" r="2.45" fill="none" stroke="#0000ff" stroke-width="1.1"/>
<circle cx="704.62" cy="110.29" r="2.45" fill="none" stroke="#0000ff" stroke-width="1.1"/>
<circle cx="721.37" cy="102.59" r="2.45" fill="none" stroke="#0000ff" stroke-width="1.1"/>
<circle cx="738.11" cy="94.9" r="2.45" fill="none" stroke="#0000ff" stroke-width="1.1"/>
<circle cx="754.86" cy="86.87" r="2.45" fill="none" stroke="#0000ff" stroke-width="1.1"/>
<circle cx="771.6" cy="78.84" r="2.45" fill="none" stroke="#0000ff" stroke-width="1.1"/>
<circle cx="570.66" cy="72.48" r="2.35" fill="#0000ff"/>
<circle cx="587.4" cy="140.07" r="2.35" fill="#0000ff"/>
<circle cx="604.15" cy="190.59" r="2.35" fill="#0000ff"/>
<circle cx="620.89" cy="224.39" r="2.35" fill="#0000ff"/>
<circle cx="637.64" cy="246.47" r="2.35" fill="#0000ff"/>
<circle cx="654.38" cy="262.2" r="2.35" fill="#0000ff"/>
<circle cx="671.13" cy="274.24" r="2.35" fill="#0000ff"/>
<circle cx="687.88" cy="283.28" r="2.35" fill="#0000ff"/>
<circle cx="704.62" cy="290.97" r="2.35" fill="#0000ff"/>
<circle cx="721.37" cy="296.99" r="2.35" fill="#0000ff"/>
<circle cx="738.11" cy="302.35" r="2.35" fill="#0000ff"/>
<circle cx="754.86" cy="306.36" r="2.35" fill="#0000ff"/>
<circle cx="771.6" cy="310.04" r="2.35" fill="#0000ff"/>
<path d="M583.83 158.8 H603.03 M593.43 149.2 V168.4" stroke="#0000ff" stroke-width="3.0" fill="none"/>
<path d="M544.82 201.3 H564.02 M554.42 191.7 V210.9" stroke="#008000" stroke-width="3.0" fill="none"/>
<path d="M519.2 230.07 H538.4 M528.8 220.47 V239.67" stroke="#ff0000" stroke-width="3.0" fill="none"/>
<path d="M497.93 250.82 H517.13 M507.53 241.22 V260.42" stroke="#000000" stroke-width="3.0" fill="none"/>
<rect x="436.7" y="7.9" width="334.9" height="334.6" fill="none" stroke="#1a1a1a" stroke-width="1.3"/>
<path d="M453.44 342.5v-4.8 M453.44 7.9v4.8 M470.19 342.5v-4.8 M470.19 7.9v4.8 M486.94 342.5v-4.8 M486.94 7.9v4.8 M503.68 342.5v-4.8 M503.68 7.9v4.8 M520.42 342.5v-4.8 M520.42 7.9v4.8 M537.17 342.5v-4.8 M537.17 7.9v4.8 M553.91 342.5v-4.8 M553.91 7.9v4.8 M570.66 342.5v-4.8 M570.66 7.9v4.8 M587.4 342.5v-4.8 M587.4 7.9v4.8 M604.15 342.5v-4.8 M604.15 7.9v4.8 M620.89 342.5v-4.8 M620.89 7.9v4.8 M637.64 342.5v-4.8 M637.64 7.9v4.8 M654.38 342.5v-4.8 M654.38 7.9v4.8 M671.13 342.5v-4.8 M671.13 7.9v4.8 M687.88 342.5v-4.8 M687.88 7.9v4.8 M704.62 342.5v-4.8 M704.62 7.9v4.8 M721.37 342.5v-4.8 M721.37 7.9v4.8 M738.11 342.5v-4.8 M738.11 7.9v4.8 M754.86 342.5v-4.8 M754.86 7.9v4.8 M436.7 309.04h4.5 M771.6 309.04h-4.5 M436.7 275.58h4.5 M771.6 275.58h-4.5 M436.7 242.12h4.5 M771.6 242.12h-4.5 M436.7 208.66h4.5 M771.6 208.66h-4.5 M436.7 175.2h4.5 M771.6 175.2h-4.5 M436.7 141.74h4.5 M771.6 141.74h-4.5 M436.7 108.28h4.5 M771.6 108.28h-4.5 M436.7 74.82h4.5 M771.6 74.82h-4.5 M436.7 41.36h4.5 M771.6 41.36h-4.5 " stroke="#1a1a1a" stroke-width="1.2" fill="none"/>
<path d="M602 55.9H639.5" stroke="#000" stroke-width="1.15" stroke-dasharray="10.3 3.7" fill="none"/>
<circle cx="620.75" cy="55.9" r="2.45" fill="none" stroke="#000" stroke-width="1"/>
<path d="M602 89.3H639.5" stroke="#000" stroke-width="1.15" fill="none"/>
<circle cx="620.75" cy="89.3" r="2.35" fill="#000"/>
<g transform="translate(649.2 62.6)" font-family="Liberation Serif, serif" font-size="26" fill="#000" color="#000"><path d="M12.91 -13.38 L0.53 3.37" stroke="currentColor" stroke-width="1.61" stroke-linecap="round" fill="none"/><path d="M2.26 -10.35 C2.53 -12.84 4.66 -14.27 5.59 -12.13 C6.26 -9.99 6.66 -4.11 7.19 -0.37 C7.72 3.01 9.05 3.9 10.38 2.65 C11.32 1.76 11.85 0.69 12.25 -0.55" stroke="currentColor" stroke-width="1.3" stroke-linecap="round" fill="none"/><text transform="translate(14.69 -15.99) scale(1 1.04)" font-size="16.12" font-style="italic">s</text><text x="20.96" y="-1.82">(</text><text transform="translate(28.58 0) skewX(-8) scale(1 1.07)" font-style="italic" font-weight="bold">Q</text><text x="48.39" y="-1.82">)</text></g>
<g transform="translate(649.2 97)" font-family="Liberation Serif, serif" font-size="26" fill="#000" color="#000"><path d="M12.91 -13.38 L0.53 3.37" stroke="currentColor" stroke-width="1.61" stroke-linecap="round" fill="none"/><path d="M2.26 -10.35 C2.53 -12.84 4.66 -14.27 5.59 -12.13 C6.26 -9.99 6.66 -4.11 7.19 -0.37 C7.72 3.01 9.05 3.9 10.38 2.65 C11.32 1.76 11.85 0.69 12.25 -0.55" stroke="currentColor" stroke-width="1.3" stroke-linecap="round" fill="none"/><text transform="translate(14.69 -15.99) scale(1 1.04)" font-size="16.12" font-style="italic">Q</text><text x="27.24" y="-1.82">(</text><text transform="translate(34.86 0) skewX(-8) scale(1 1.07)" font-style="italic" font-weight="bold">Q</text><text x="54.67" y="-1.82">)</text></g>
<path d="M112.26 689.91 L113.61 689.8 L114.95 689.69 L116.3 689.57 L117.64 689.46 L118.99 689.36 L120.34 689.25 L121.68 689.14 L123.03 689.04 L124.37 688.94 L125.72 688.84 L127.07 688.74 L128.41 688.64 L129.76 688.54 L131.1 688.44 L132.45 688.35 L133.79 688.25 L135.14 688.16 L136.49 688.07 L137.83 687.97 L139.18 687.88 L140.52 687.79 L141.87 687.7 L143.22 687.61 L144.56 687.52 L145.91 687.43 L147.25 687.34 L148.6 687.25 L149.95 687.16 L151.29 687.07 L152.64 686.98 L153.98 686.89 L155.33 686.79 L156.68 686.7 L158.02 686.61 L159.37 686.52 L160.71 686.43 L162.06 686.33 L163.41 686.24 L164.75 686.14 L166.1 686.04 L167.44 685.95 L168.79 685.85 L170.13 685.75 L171.48 685.64 L172.83 685.54 L174.17 685.44 L175.52 685.33 L176.86 685.22 L178.21 685.11 L179.56 685 L180.9 684.89 L182.25 684.77 L183.59 684.65 L184.94 684.53 L186.29 684.41 L187.63 684.29 L188.98 684.16 L190.32 684.04 L191.67 683.91 L193.02 683.78 L194.36 683.65 L195.71 683.52 L197.05 683.39 L198.4 683.26 L199.75 683.12 L201.09 682.99 L202.44 682.85 L203.78 682.72 L205.13 682.58 L206.48 682.45 L207.82 682.31 L209.17 682.17 L210.51 682.04 L211.86 681.9 L213.2 681.76 L214.55 681.63 L215.9 681.49 L217.24 681.36 L218.59 681.22 L219.93 681.09 L221.28 680.95 L222.63 680.81 L223.97 680.68 L225.32 680.54 L226.66 680.41 L228.01 680.27 L229.36 680.14 L230.7 680 L232.05 679.86 L233.39 679.73 L234.74 679.59 L236.09 679.45 L237.43 679.31 L238.78 679.17 L240.12 679.04 L241.47 678.9 L242.82 678.76 L244.16 678.61 L245.51 678.47 L246.85 678.33 L248.2 678.19 L249.54 678.04 L250.89 677.9 L252.24 677.75 L253.58 677.6 L254.93 677.46 L256.27 677.31 L257.62 677.16 L258.97 677.01 L260.31 676.87 L261.66 676.72 L263 676.57 L264.35 676.42 L265.7 676.27 L267.04 676.12 L268.39 675.97 L269.73 675.82 L271.08 675.67 L272.43 675.52 L273.77 675.37 L275.12 675.22 L276.46 675.07 L277.81 674.92 L279.16 674.77 L280.5 674.63 L281.85 674.48 L283.19 674.33 L284.54 674.19 L285.88 674.04 L287.23 673.89 L288.58 673.75 L289.92 673.6 L291.27 673.46 L292.61 673.31 L293.96 673.17 L295.31 673.02 L296.65 672.88 L298 672.74 L299.34 672.59 L300.69 672.45 L302.04 672.3 L303.38 672.16 L304.73 672.01 L306.07 671.87 L307.42 671.72 L308.77 671.58 L310.11 671.43 L311.46 671.29 L312.8 671.14 L314.15 670.99 L315.5 670.85 L316.84 670.7 L318.19 670.55 L319.53 670.4 L320.88 670.25 L322.23 670.1 L323.57 669.95 L324.92 669.8 L326.26 669.65 L327.61 669.5 L328.95 669.34 L330.3 669.19 L331.65 669.03 L332.99 668.88 L334.34 668.72 L335.68 668.56 L337.03 668.4 L338.38 668.24 L339.72 668.08 L341.07 667.91 L342.41 667.75 L343.76 667.58 L345.11 667.41 L346.45 667.24 L347.8 667.07 L349.14 666.9 L350.49 666.72 L351.84 666.55 L353.18 666.37 L354.53 666.19 L355.87 666.01 L357.22 665.82 L358.57 665.64 L359.91 665.45 L361.26 665.26 L362.6 665.07 L363.95 664.87 L365.29 664.68 L366.64 664.48 L367.99 664.27 L369.33 664.07 L370.68 663.86 L372.02 663.65 L373.37 663.44 L374.72 663.23 L376.06 663.01 L377.41 662.79 L378.75 662.56 L380.1 662.34" fill="none" stroke="#000000" stroke-width="1.15" stroke-dasharray="10.3 3.7" clip-path="url(#cc)"/>
<path d="M112.26 612.73 L113.61 614.45 L114.95 616.13 L116.3 617.77 L117.64 619.37 L118.99 620.94 L120.34 622.48 L121.68 623.98 L123.03 625.45 L124.37 626.88 L125.72 628.29 L127.07 629.67 L128.41 631.02 L129.76 632.34 L131.1 633.64 L132.45 634.91 L133.79 636.15 L135.14 637.37 L136.49 638.57 L137.83 639.74 L139.18 640.89 L140.52 642.02 L141.87 643.13 L143.22 644.22 L144.56 645.28 L145.91 646.33 L147.25 647.36 L148.6 648.37 L149.95 649.37 L151.29 650.34 L152.64 651.3 L153.98 652.24 L155.33 653.17 L156.68 654.08 L158.02 654.98 L159.37 655.86 L160.71 656.73 L162.06 657.58 L163.41 658.42 L164.75 659.25 L166.1 660.07 L167.44 660.87 L168.79 661.66 L170.13 662.44 L171.48 663.21 L172.83 663.97 L174.17 664.71 L175.52 665.45 L176.86 666.18 L178.21 666.89 L179.56 667.6 L180.9 668.3 L182.25 668.98 L183.59 669.66 L184.94 670.33 L186.29 670.99 L187.63 671.64 L188.98 672.28 L190.32 672.9 L191.67 673.52 L193.02 674.13 L194.36 674.73 L195.71 675.31 L197.05 675.89 L198.4 676.46 L199.75 677.01 L201.09 677.56 L202.44 678.09 L203.78 678.61 L205.13 679.13 L206.48 679.63 L207.82 680.12 L209.17 680.6 L210.51 681.07 L211.86 681.53 L213.2 681.98 L214.55 682.42 L215.9 682.85 L217.24 683.27 L218.59 683.68 L219.93 684.08 L221.28 684.48 L222.63 684.86 L223.97 685.24 L225.32 685.62 L226.66 685.98 L228.01 686.35 L229.36 686.7 L230.7 687.05 L232.05 687.4 L233.39 687.74 L234.74 688.08 L236.09 688.42 L237.43 688.75 L238.78 689.08 L240.12 689.41 L241.47 689.73 L242.82 690.05 L244.16 690.37 L245.51 690.69 L246.85 691.01 L248.2 691.33 L249.54 691.64 L250.89 691.96 L252.24 692.27 L253.58 692.58 L254.93 692.89 L256.27 693.19 L257.62 693.49 L258.97 693.79 L260.31 694.09 L261.66 694.38 L263 694.67 L264.35 694.96 L265.7 695.24 L267.04 695.52 L268.39 695.8 L269.73 696.07 L271.08 696.34 L272.43 696.6 L273.77 696.86 L275.12 697.12 L276.46 697.37 L277.81 697.62 L279.16 697.86 L280.5 698.09 L281.85 698.33 L283.19 698.55 L284.54 698.78 L285.88 699 L287.23 699.21 L288.58 699.43 L289.92 699.63 L291.27 699.84 L292.61 700.04 L293.96 700.24 L295.31 700.44 L296.65 700.63 L298 700.82 L299.34 701.01 L300.69 701.19 L302.04 701.38 L303.38 701.56 L304.73 701.74 L306.07 701.92 L307.42 702.1 L308.77 702.27 L310.11 702.45 L311.46 702.62 L312.8 702.79 L314.15 702.96 L315.5 703.13 L316.84 703.3 L318.19 703.47 L319.53 703.64 L320.88 703.8 L322.23 703.96 L323.57 704.13 L324.92 704.29 L326.26 704.45 L327.61 704.61 L328.95 704.77 L330.3 704.93 L331.65 705.08 L332.99 705.24 L334.34 705.39 L335.68 705.54 L337.03 705.69 L338.38 705.84 L339.72 705.99 L341.07 706.13 L342.41 706.28 L343.76 706.42 L345.11 706.56 L346.45 706.7 L347.8 706.84 L349.14 706.97 L350.49 707.11 L351.84 707.24 L353.18 707.37 L354.53 707.5 L355.87 707.63 L357.22 707.76 L358.57 707.88 L359.91 708.01 L361.26 708.13 L362.6 708.25 L363.95 708.37 L365.29 708.49 L366.64 708.6 L367.99 708.72 L369.33 708.83 L370.68 708.94 L372.02 709.05 L373.37 709.15 L374.72 709.26 L376.06 709.36 L377.41 709.46 L378.75 709.56 L380.1 709.66" fill="none" stroke="#000000" stroke-width="1.15" clip-path="url(#cc)"/>
<path d="M112.26 679 L113.61 678.82 L114.95 678.64 L116.3 678.46 L117.64 678.28 L118.99 678.1 L120.34 677.91 L121.68 677.73 L123.03 677.55 L124.37 677.37 L125.72 677.19 L127.07 677.01 L128.41 676.83 L129.76 676.65 L131.1 676.47 L132.45 676.29 L133.79 676.11 L135.14 675.94 L136.49 675.76 L137.83 675.58 L139.18 675.4 L140.52 675.22 L141.87 675.04 L143.22 674.86 L144.56 674.68 L145.91 674.5 L147.25 674.32 L148.6 674.13 L149.95 673.95 L151.29 673.77 L152.64 673.59 L153.98 673.41 L155.33 673.23 L156.68 673.04 L158.02 672.86 L159.37 672.68 L160.71 672.49 L162.06 672.31 L163.41 672.12 L164.75 671.94 L166.1 671.75 L167.44 671.56 L168.79 671.38 L170.13 671.19 L171.48 671 L172.83 670.81 L174.17 670.62 L175.52 670.43 L176.86 670.24 L178.21 670.04 L179.56 669.85 L180.9 669.66 L182.25 669.46 L183.59 669.26 L184.94 669.07 L186.29 668.87 L187.63 668.67 L188.98 668.47 L190.32 668.27 L191.67 668.06 L193.02 667.86 L194.36 667.66 L195.71 667.45 L197.05 667.24 L198.4 667.03 L199.75 666.83 L201.09 666.61 L202.44 666.4 L203.78 666.19 L205.13 665.98 L206.48 665.76 L207.82 665.54 L209.17 665.32 L210.51 665.1 L211.86 664.88 L213.2 664.66 L214.55 664.44 L215.9 664.21 L217.24 663.99 L218.59 663.76 L219.93 663.53 L221.28 663.3 L222.63 663.07 L223.97 662.84 L225.32 662.6 L226.66 662.37 L228.01 662.14 L229.36 661.9 L230.7 661.66 L232.05 661.43 L233.39 661.19 L234.74 660.95 L236.09 660.71 L237.43 660.48 L238.78 660.24 L240.12 660 L241.47 659.76 L242.82 659.52 L244.16 659.28 L245.51 659.04 L246.85 658.8 L248.2 658.56 L249.54 658.32 L250.89 658.09 L252.24 657.85 L253.58 657.61 L254.93 657.37 L256.27 657.13 L257.62 656.89 L258.97 656.65 L260.31 656.41 L261.66 656.17 L263 655.93 L264.35 655.69 L265.7 655.45 L267.04 655.21 L268.39 654.96 L269.73 654.72 L271.08 654.48 L272.43 654.23 L273.77 653.98 L275.12 653.74 L276.46 653.49 L277.81 653.24 L279.16 652.99 L280.5 652.74 L281.85 652.49 L283.19 652.23 L284.54 651.98 L285.88 651.72 L287.23 651.46 L288.58 651.2 L289.92 650.94 L291.27 650.68 L292.61 650.42 L293.96 650.15 L295.31 649.89 L296.65 649.62 L298 649.35 L299.34 649.08 L300.69 648.81 L302.04 648.53 L303.38 648.25 L304.73 647.98 L306.07 647.7 L307.42 647.42 L308.77 647.13 L310.11 646.85 L311.46 646.56 L312.8 646.27 L314.15 645.98 L315.5 645.69 L316.84 645.4 L318.19 645.1 L319.53 644.81 L320.88 644.51 L322.23 644.21 L323.57 643.9 L324.92 643.6 L326.26 643.29 L327.61 642.98 L328.95 642.67 L330.3 642.36 L331.65 642.05 L332.99 641.73 L334.34 641.41 L335.68 641.09 L337.03 640.77 L338.38 640.45 L339.72 640.13 L341.07 639.8 L342.41 639.47 L343.76 639.14 L345.11 638.81 L346.45 638.48 L347.8 638.14 L349.14 637.81 L350.49 637.47 L351.84 637.13 L353.18 636.79 L354.53 636.45 L355.87 636.11 L357.22 635.76 L358.57 635.41 L359.91 635.06 L361.26 634.71 L362.6 634.36 L363.95 634.01 L365.29 633.66 L366.64 633.3 L367.99 632.94 L369.33 632.58 L370.68 632.22 L372.02 631.86 L373.37 631.5 L374.72 631.14 L376.06 630.77 L377.41 630.41 L378.75 630.04 L380.1 629.67" fill="none" stroke="#ff8000" stroke-width="1.15" stroke-dasharray="10.3 3.7" clip-path="url(#cc)"/>
<path d="M95.52 225.15 L96.95 237.85 L98.38 250.26 L99.81 262.39 L101.24 274.24 L102.67 285.81 L104.1 297.09 L105.53 308.1 L106.96 318.84 L108.39 329.3 L109.82 339.49 L111.25 349.42 L112.68 359.08 L114.11 368.49 L115.54 377.64 L116.97 386.54 L118.4 395.19 L119.83 403.6 L121.26 411.77 L122.69 419.71 L124.12 427.42 L125.55 434.9 L126.98 442.16 L128.41 449.2 L129.84 456.03 L131.27 462.66 L132.7 469.08 L134.13 475.3 L135.56 481.33 L136.99 487.17 L138.42 492.82 L139.85 498.3 L141.28 503.59 L142.71 508.72 L144.14 513.67 L145.57 518.46 L147 523.1 L148.43 527.57 L149.86 531.91 L151.29 536.1 L152.72 540.16 L154.15 544.09 L155.58 547.9 L157.01 551.59 L158.44 555.18 L159.87 558.65 L161.3 562.03 L162.73 565.31 L164.16 568.5 L165.59 571.59 L167.02 574.61 L168.45 577.54 L169.88 580.39 L171.31 583.17 L172.74 585.88 L174.17 588.52 L175.6 591.1 L177.03 593.61 L178.46 596.06 L179.89 598.46 L181.32 600.8 L182.75 603.08 L184.18 605.32 L185.61 607.5 L187.04 609.63 L188.47 611.71 L189.9 613.74 L191.33 615.72 L192.76 617.66 L194.19 619.55 L195.62 621.4 L197.05 623.21 L198.48 624.97 L199.91 626.69 L201.34 628.37 L202.77 630.01 L204.2 631.62 L205.63 633.18 L207.06 634.71 L208.49 636.2 L209.92 637.65 L211.35 639.07 L212.78 640.46 L214.21 641.81 L215.64 643.13 L217.07 644.42 L218.5 645.69 L219.93 646.92 L221.36 648.12 L222.79 649.3 L224.22 650.45 L225.65 651.58 L227.08 652.68 L228.51 653.76 L229.94 654.82 L231.37 655.85 L232.8 656.87 L234.23 657.87 L235.66 658.84 L237.09 659.8 L238.53 660.74 L239.96 661.66 L241.39 662.56 L242.82 663.45 L244.25 664.32 L245.68 665.18 L247.11 666.03 L248.54 666.85 L249.97 667.67 L251.4 668.47 L252.83 669.26 L254.26 670.03 L255.69 670.79 L257.12 671.53 L258.55 672.26 L259.98 672.98 L261.41 673.69 L262.84 674.38 L264.27 675.06 L265.7 675.73 L267.13 676.38 L268.56 677.03 L269.99 677.66 L271.42 678.28 L272.85 678.88 L274.28 679.48 L275.71 680.06 L277.14 680.63 L278.57 681.19 L280 681.74 L281.43 682.28 L282.86 682.81 L284.29 683.33 L285.72 683.83 L287.15 684.33 L288.58 684.82 L290.01 685.3 L291.44 685.77 L292.87 686.23 L294.3 686.69 L295.73 687.13 L297.16 687.57 L298.59 688.01 L300.02 688.43 L301.45 688.85 L302.88 689.26 L304.31 689.67 L305.74 690.07 L307.17 690.47 L308.6 690.85 L310.03 691.24 L311.46 691.62 L312.89 691.99 L314.32 692.36 L315.75 692.72 L317.18 693.08 L318.61 693.44 L320.04 693.79 L321.47 694.13 L322.9 694.47 L324.33 694.81 L325.76 695.14 L327.19 695.47 L328.62 695.79 L330.05 696.1 L331.48 696.41 L332.91 696.72 L334.34 697.02 L335.77 697.32 L337.2 697.61 L338.63 697.9 L340.06 698.18 L341.49 698.46 L342.92 698.73 L344.35 699 L345.78 699.27 L347.21 699.53 L348.64 699.78 L350.07 700.03 L351.5 700.28 L352.93 700.52 L354.36 700.75 L355.79 700.98 L357.22 701.21 L358.65 701.43 L360.08 701.65 L361.51 701.87 L362.94 702.07 L364.37 702.28 L365.8 702.48 L367.23 702.67 L368.66 702.87 L370.09 703.05 L371.52 703.23 L372.95 703.41 L374.38 703.59 L375.81 703.76 L377.24 703.92 L378.67 704.08 L380.1 704.24" fill="none" stroke="#ff8000" stroke-width="1.15" clip-path="url(#cc)"/>
<path d="M145.74 654.24 L146.92 654.01 L148.1 653.79 L149.27 653.55 L150.45 653.32 L151.63 653.08 L152.81 652.83 L153.98 652.58 L155.16 652.32 L156.34 652.06 L157.52 651.79 L158.69 651.52 L159.87 651.25 L161.05 650.97 L162.23 650.69 L163.41 650.4 L164.58 650.11 L165.76 649.82 L166.94 649.52 L168.12 649.22 L169.29 648.91 L170.47 648.6 L171.65 648.29 L172.83 647.97 L174 647.65 L175.18 647.33 L176.36 647 L177.54 646.68 L178.72 646.35 L179.89 646.01 L181.07 645.68 L182.25 645.34 L183.43 645 L184.6 644.65 L185.78 644.31 L186.96 643.96 L188.14 643.61 L189.31 643.26 L190.49 642.91 L191.67 642.55 L192.85 642.2 L194.03 641.84 L195.2 641.49 L196.38 641.13 L197.56 640.77 L198.74 640.41 L199.91 640.05 L201.09 639.69 L202.27 639.33 L203.45 638.97 L204.62 638.61 L205.8 638.25 L206.98 637.89 L208.16 637.53 L209.34 637.18 L210.51 636.82 L211.69 636.46 L212.87 636.11 L214.05 635.76 L215.22 635.41 L216.4 635.06 L217.58 634.71 L218.76 634.36 L219.93 634.02 L221.11 633.67 L222.29 633.32 L223.47 632.98 L224.65 632.63 L225.82 632.29 L227 631.94 L228.18 631.6 L229.36 631.25 L230.53 630.9 L231.71 630.55 L232.89 630.21 L234.07 629.85 L235.24 629.5 L236.42 629.15 L237.6 628.79 L238.78 628.43 L239.96 628.07 L241.13 627.71 L242.31 627.34 L243.49 626.98 L244.67 626.6 L245.84 626.23 L247.02 625.85 L248.2 625.47 L249.38 625.08 L250.55 624.69 L251.73 624.3 L252.91 623.9 L254.09 623.5 L255.27 623.1 L256.44 622.69 L257.62 622.28 L258.8 621.87 L259.98 621.45 L261.15 621.03 L262.33 620.61 L263.51 620.18 L264.69 619.75 L265.86 619.32 L267.04 618.89 L268.22 618.45 L269.4 618.01 L270.57 617.57 L271.75 617.12 L272.93 616.67 L274.11 616.22 L275.29 615.77 L276.46 615.32 L277.64 614.86 L278.82 614.4 L280 613.94 L281.17 613.48 L282.35 613.01 L283.53 612.54 L284.71 612.07 L285.88 611.6 L287.06 611.13 L288.24 610.65 L289.42 610.18 L290.6 609.7 L291.77 609.21 L292.95 608.73 L294.13 608.25 L295.31 607.76 L296.48 607.27 L297.66 606.78 L298.84 606.29 L300.02 605.79 L301.19 605.29 L302.37 604.79 L303.55 604.29 L304.73 603.79 L305.91 603.29 L307.08 602.78 L308.26 602.27 L309.44 601.76 L310.62 601.25 L311.79 600.74 L312.97 600.22 L314.15 599.7 L315.33 599.19 L316.5 598.66 L317.68 598.14 L318.86 597.62 L320.04 597.09 L321.22 596.56 L322.39 596.03 L323.57 595.5 L324.75 594.97 L325.93 594.43 L327.1 593.89 L328.28 593.35 L329.46 592.81 L330.64 592.26 L331.81 591.71 L332.99 591.16 L334.17 590.61 L335.35 590.06 L336.53 589.5 L337.7 588.94 L338.88 588.38 L340.06 587.81 L341.24 587.25 L342.41 586.68 L343.59 586.1 L344.77 585.53 L345.95 584.95 L347.12 584.37 L348.3 583.78 L349.48 583.2 L350.66 582.61 L351.84 582.01 L353.01 581.42 L354.19 580.82 L355.37 580.22 L356.55 579.61 L357.72 579 L358.9 578.39 L360.08 577.78 L361.26 577.16 L362.43 576.54 L363.61 575.91 L364.79 575.28 L365.97 574.65 L367.15 574.01 L368.32 573.37 L369.5 572.73 L370.68 572.08 L371.86 571.42 L373.03 570.77 L374.21 570.11 L375.39 569.44 L376.57 568.78 L377.74 568.1 L378.92 567.43 L380.1 566.74" fill="none" stroke="#8000ff" stroke-width="1.15" stroke-dasharray="10.3 3.7" clip-path="url(#cc)"/>
<path d="M192.61 312.17 L193.55 318.54 L194.5 325.23 L195.44 332.18 L196.38 339.36 L197.32 346.72 L198.26 354.21 L199.21 361.8 L200.15 369.44 L201.09 377.11 L202.03 384.77 L202.98 392.38 L203.92 399.92 L204.86 407.36 L205.8 414.68 L206.74 421.86 L207.69 428.87 L208.63 435.7 L209.57 442.33 L210.51 448.76 L211.46 454.96 L212.4 460.92 L213.34 466.64 L214.28 472.13 L215.22 477.39 L216.17 482.43 L217.11 487.28 L218.05 491.93 L218.99 496.41 L219.93 500.72 L220.88 504.86 L221.82 508.86 L222.76 512.71 L223.7 516.43 L224.65 520.01 L225.59 523.48 L226.53 526.83 L227.47 530.07 L228.41 533.22 L229.36 536.26 L230.3 539.21 L231.24 542.08 L232.18 544.87 L233.12 547.58 L234.07 550.22 L235.01 552.79 L235.95 555.3 L236.89 557.75 L237.84 560.14 L238.78 562.48 L239.72 564.77 L240.66 567.01 L241.6 569.22 L242.55 571.38 L243.49 573.5 L244.43 575.6 L245.37 577.65 L246.31 579.68 L247.26 581.69 L248.2 583.66 L249.14 585.61 L250.08 587.53 L251.03 589.43 L251.97 591.29 L252.91 593.13 L253.85 594.95 L254.79 596.74 L255.74 598.5 L256.68 600.23 L257.62 601.94 L258.56 603.63 L259.5 605.28 L260.45 606.92 L261.39 608.52 L262.33 610.11 L263.27 611.67 L264.22 613.2 L265.16 614.71 L266.1 616.19 L267.04 617.65 L267.98 619.09 L268.93 620.5 L269.87 621.89 L270.81 623.26 L271.75 624.61 L272.69 625.93 L273.64 627.23 L274.58 628.51 L275.52 629.76 L276.46 631 L277.41 632.21 L278.35 633.4 L279.29 634.57 L280.23 635.72 L281.17 636.85 L282.12 637.96 L283.06 639.05 L284 640.12 L284.94 641.17 L285.88 642.2 L286.83 643.22 L287.77 644.21 L288.71 645.19 L289.65 646.16 L290.6 647.1 L291.54 648.03 L292.48 648.95 L293.42 649.84 L294.36 650.73 L295.31 651.59 L296.25 652.44 L297.19 653.28 L298.13 654.11 L299.08 654.91 L300.02 655.71 L300.96 656.49 L301.9 657.26 L302.84 658.01 L303.79 658.76 L304.73 659.49 L305.67 660.2 L306.61 660.91 L307.55 661.6 L308.5 662.28 L309.44 662.96 L310.38 663.61 L311.32 664.26 L312.27 664.9 L313.21 665.53 L314.15 666.14 L315.09 666.75 L316.03 667.34 L316.98 667.93 L317.92 668.51 L318.86 669.07 L319.8 669.63 L320.74 670.18 L321.69 670.72 L322.63 671.26 L323.57 671.78 L324.51 672.3 L325.46 672.81 L326.4 673.31 L327.34 673.8 L328.28 674.29 L329.22 674.77 L330.17 675.24 L331.11 675.71 L332.05 676.17 L332.99 676.62 L333.93 677.07 L334.88 677.51 L335.82 677.94 L336.76 678.37 L337.7 678.79 L338.65 679.21 L339.59 679.63 L340.53 680.03 L341.47 680.44 L342.41 680.83 L343.36 681.23 L344.3 681.61 L345.24 682 L346.18 682.38 L347.12 682.75 L348.07 683.12 L349.01 683.49 L349.95 683.85 L350.89 684.21 L351.84 684.56 L352.78 684.91 L353.72 685.26 L354.66 685.6 L355.6 685.94 L356.55 686.28 L357.49 686.61 L358.43 686.94 L359.37 687.27 L360.31 687.59 L361.26 687.91 L362.2 688.23 L363.14 688.54 L364.08 688.86 L365.03 689.16 L365.97 689.47 L366.91 689.78 L367.85 690.08 L368.79 690.38 L369.74 690.67 L370.68 690.97 L371.62 691.26 L372.56 691.55 L373.5 691.84 L374.45 692.12 L375.39 692.41 L376.33 692.69 L377.27 692.97 L378.22 693.25 L379.16 693.52 L380.1 693.8" fill="none" stroke="#8000ff" stroke-width="1.15" clip-path="url(#cc)"/>
<path d="M179.22 628.8 L180.23 628.38 L181.24 627.95 L182.25 627.53 L183.26 627.11 L184.27 626.68 L185.28 626.26 L186.29 625.84 L187.3 625.42 L188.31 624.99 L189.31 624.57 L190.32 624.15 L191.33 623.73 L192.34 623.31 L193.35 622.88 L194.36 622.46 L195.37 622.04 L196.38 621.61 L197.39 621.19 L198.4 620.77 L199.41 620.34 L200.42 619.92 L201.43 619.5 L202.44 619.07 L203.45 618.65 L204.46 618.22 L205.47 617.8 L206.48 617.37 L207.48 616.95 L208.49 616.52 L209.5 616.1 L210.51 615.67 L211.52 615.24 L212.53 614.81 L213.54 614.38 L214.55 613.95 L215.56 613.52 L216.57 613.09 L217.58 612.66 L218.59 612.23 L219.6 611.8 L220.61 611.36 L221.62 610.93 L222.63 610.49 L223.64 610.06 L224.65 609.62 L225.65 609.18 L226.66 608.75 L227.67 608.31 L228.68 607.86 L229.69 607.42 L230.7 606.98 L231.71 606.54 L232.72 606.09 L233.73 605.64 L234.74 605.19 L235.75 604.75 L236.76 604.29 L237.77 603.84 L238.78 603.39 L239.79 602.93 L240.8 602.48 L241.81 602.02 L242.82 601.56 L243.82 601.1 L244.83 600.63 L245.84 600.17 L246.85 599.7 L247.86 599.23 L248.87 598.76 L249.88 598.29 L250.89 597.82 L251.9 597.34 L252.91 596.86 L253.92 596.38 L254.93 595.9 L255.94 595.41 L256.95 594.93 L257.96 594.44 L258.97 593.95 L259.98 593.45 L260.99 592.95 L261.99 592.46 L263 591.95 L264.01 591.45 L265.02 590.94 L266.03 590.43 L267.04 589.92 L268.05 589.41 L269.06 588.89 L270.07 588.37 L271.08 587.85 L272.09 587.32 L273.1 586.79 L274.11 586.26 L275.12 585.73 L276.13 585.19 L277.14 584.65 L278.15 584.1 L279.16 583.55 L280.16 583 L281.17 582.45 L282.18 581.89 L283.19 581.33 L284.2 580.76 L285.21 580.2 L286.22 579.62 L287.23 579.05 L288.24 578.47 L289.25 577.89 L290.26 577.31 L291.27 576.72 L292.28 576.13 L293.29 575.53 L294.3 574.93 L295.31 574.33 L296.32 573.73 L297.33 573.12 L298.33 572.51 L299.34 571.9 L300.35 571.28 L301.36 570.66 L302.37 570.04 L303.38 569.41 L304.39 568.78 L305.4 568.15 L306.41 567.51 L307.42 566.87 L308.43 566.23 L309.44 565.59 L310.45 564.94 L311.46 564.29 L312.47 563.63 L313.48 562.98 L314.49 562.32 L315.5 561.66 L316.5 560.99 L317.51 560.32 L318.52 559.65 L319.53 558.98 L320.54 558.3 L321.55 557.62 L322.56 556.94 L323.57 556.25 L324.58 555.56 L325.59 554.87 L326.6 554.17 L327.61 553.48 L328.62 552.77 L329.63 552.07 L330.64 551.36 L331.65 550.65 L332.66 549.94 L333.67 549.23 L334.67 548.51 L335.68 547.78 L336.69 547.06 L337.7 546.33 L338.71 545.6 L339.72 544.87 L340.73 544.13 L341.74 543.39 L342.75 542.65 L343.76 541.9 L344.77 541.15 L345.78 540.4 L346.79 539.64 L347.8 538.88 L348.81 538.12 L349.82 537.36 L350.83 536.59 L351.84 535.82 L352.84 535.05 L353.85 534.27 L354.86 533.49 L355.87 532.71 L356.88 531.92 L357.89 531.13 L358.9 530.34 L359.91 529.54 L360.92 528.74 L361.93 527.94 L362.94 527.14 L363.95 526.33 L364.96 525.52 L365.97 524.71 L366.98 523.89 L367.99 523.07 L369 522.25 L370.01 521.42 L371.01 520.59 L372.02 519.76 L373.03 518.92 L374.04 518.09 L375.05 517.25 L376.06 516.4 L377.07 515.55 L378.08 514.7 L379.09 513.85 L380.1 512.99" fill="none" stroke="#ff0000" stroke-width="1.15" stroke-dasharray="10.3 3.7" clip-path="url(#cc)"/>
<path d="M239.48 338.95 L240.19 346.85 L240.9 355.26 L241.6 364.03 L242.31 373 L243.02 382.06 L243.72 391.07 L244.43 399.93 L245.14 408.55 L245.84 416.82 L246.55 424.68 L247.26 432.1 L247.96 439.11 L248.67 445.74 L249.38 452.02 L250.08 457.96 L250.79 463.58 L251.5 468.91 L252.2 473.97 L252.91 478.76 L253.62 483.31 L254.32 487.64 L255.03 491.75 L255.74 495.66 L256.44 499.38 L257.15 502.92 L257.86 506.3 L258.56 509.52 L259.27 512.59 L259.98 515.52 L260.68 518.33 L261.39 521.02 L262.1 523.59 L262.8 526.06 L263.51 528.43 L264.22 530.71 L264.92 532.91 L265.63 535.02 L266.34 537.07 L267.04 539.04 L267.75 540.96 L268.46 542.81 L269.16 544.62 L269.87 546.38 L270.57 548.09 L271.28 549.77 L271.99 551.41 L272.69 553.03 L273.4 554.62 L274.11 556.18 L274.81 557.73 L275.52 559.27 L276.23 560.79 L276.93 562.31 L277.64 563.82 L278.35 565.34 L279.05 566.85 L279.76 568.37 L280.47 569.89 L281.17 571.42 L281.88 572.96 L282.59 574.5 L283.29 576.04 L284 577.58 L284.71 579.13 L285.41 580.67 L286.12 582.21 L286.83 583.74 L287.53 585.28 L288.24 586.81 L288.95 588.33 L289.65 589.85 L290.36 591.36 L291.07 592.86 L291.77 594.35 L292.48 595.83 L293.19 597.31 L293.89 598.77 L294.6 600.22 L295.31 601.66 L296.01 603.09 L296.72 604.5 L297.43 605.9 L298.13 607.29 L298.84 608.66 L299.55 610.02 L300.25 611.36 L300.96 612.69 L301.67 614 L302.37 615.29 L303.08 616.57 L303.79 617.83 L304.49 619.07 L305.2 620.3 L305.91 621.51 L306.61 622.7 L307.32 623.87 L308.03 625.02 L308.73 626.16 L309.44 627.27 L310.15 628.37 L310.85 629.45 L311.56 630.51 L312.27 631.55 L312.97 632.57 L313.68 633.58 L314.38 634.56 L315.09 635.53 L315.8 636.47 L316.5 637.4 L317.21 638.32 L317.92 639.21 L318.62 640.09 L319.33 640.96 L320.04 641.81 L320.74 642.64 L321.45 643.46 L322.16 644.27 L322.86 645.06 L323.57 645.84 L324.28 646.6 L324.98 647.35 L325.69 648.09 L326.4 648.82 L327.1 649.53 L327.81 650.23 L328.52 650.92 L329.22 651.6 L329.93 652.27 L330.64 652.93 L331.34 653.58 L332.05 654.22 L332.76 654.85 L333.46 655.46 L334.17 656.07 L334.88 656.67 L335.58 657.26 L336.29 657.85 L337 658.42 L337.7 658.99 L338.41 659.54 L339.12 660.09 L339.82 660.63 L340.53 661.17 L341.24 661.69 L341.94 662.21 L342.65 662.72 L343.36 663.23 L344.06 663.73 L344.77 664.22 L345.48 664.71 L346.18 665.19 L346.89 665.66 L347.6 666.13 L348.3 666.59 L349.01 667.05 L349.72 667.5 L350.42 667.94 L351.13 668.38 L351.84 668.82 L352.54 669.25 L353.25 669.68 L353.96 670.1 L354.66 670.51 L355.37 670.93 L356.08 671.33 L356.78 671.74 L357.49 672.14 L358.19 672.53 L358.9 672.92 L359.61 673.31 L360.31 673.69 L361.02 674.08 L361.73 674.45 L362.43 674.83 L363.14 675.2 L363.85 675.56 L364.55 675.93 L365.26 676.29 L365.97 676.64 L366.67 677 L367.38 677.35 L368.09 677.7 L368.79 678.05 L369.5 678.39 L370.21 678.73 L370.91 679.07 L371.62 679.41 L372.33 679.74 L373.03 680.07 L373.74 680.4 L374.45 680.73 L375.15 681.06 L375.86 681.38 L376.57 681.7 L377.27 682.02 L377.98 682.34 L378.69 682.66 L379.39 682.97 L380.1 683.29" fill="none" stroke="#ff0000" stroke-width="1.15" clip-path="url(#cc)"/>
<path d="M246.18 563.87 L246.85 563.39 L247.53 562.92 L248.2 562.44 L248.87 561.97 L249.54 561.49 L250.22 561.01 L250.89 560.52 L251.56 560.04 L252.24 559.56 L252.91 559.07 L253.58 558.58 L254.26 558.09 L254.93 557.6 L255.6 557.11 L256.27 556.62 L256.95 556.12 L257.62 555.62 L258.29 555.12 L258.97 554.62 L259.64 554.12 L260.31 553.62 L260.99 553.11 L261.66 552.61 L262.33 552.1 L263 551.59 L263.68 551.08 L264.35 550.57 L265.02 550.05 L265.7 549.53 L266.37 549.02 L267.04 548.5 L267.71 547.98 L268.39 547.45 L269.06 546.93 L269.73 546.4 L270.41 545.87 L271.08 545.34 L271.75 544.81 L272.43 544.28 L273.1 543.74 L273.77 543.21 L274.44 542.67 L275.12 542.13 L275.79 541.58 L276.46 541.04 L277.14 540.49 L277.81 539.95 L278.48 539.4 L279.16 538.84 L279.83 538.29 L280.5 537.74 L281.17 537.18 L281.85 536.62 L282.52 536.06 L283.19 535.49 L283.87 534.93 L284.54 534.36 L285.21 533.79 L285.88 533.22 L286.56 532.65 L287.23 532.08 L287.9 531.5 L288.58 530.92 L289.25 530.34 L289.92 529.76 L290.6 529.17 L291.27 528.58 L291.94 528 L292.61 527.4 L293.29 526.81 L293.96 526.22 L294.63 525.62 L295.31 525.02 L295.98 524.42 L296.65 523.81 L297.33 523.21 L298 522.6 L298.67 521.99 L299.34 521.38 L300.02 520.76 L300.69 520.14 L301.36 519.52 L302.04 518.9 L302.71 518.28 L303.38 517.65 L304.05 517.02 L304.73 516.39 L305.4 515.76 L306.07 515.12 L306.75 514.49 L307.42 513.85 L308.09 513.2 L308.77 512.56 L309.44 511.91 L310.11 511.26 L310.78 510.61 L311.46 509.95 L312.13 509.3 L312.8 508.64 L313.48 507.97 L314.15 507.31 L314.82 506.64 L315.5 505.97 L316.17 505.3 L316.84 504.63 L317.51 503.95 L318.19 503.27 L318.86 502.59 L319.53 501.9 L320.21 501.21 L320.88 500.52 L321.55 499.83 L322.23 499.13 L322.9 498.44 L323.57 497.74 L324.24 497.03 L324.92 496.33 L325.59 495.62 L326.26 494.91 L326.94 494.2 L327.61 493.48 L328.28 492.76 L328.95 492.04 L329.63 491.32 L330.3 490.59 L330.97 489.86 L331.65 489.13 L332.32 488.39 L332.99 487.66 L333.67 486.92 L334.34 486.17 L335.01 485.43 L335.68 484.68 L336.36 483.93 L337.03 483.18 L337.7 482.42 L338.38 481.67 L339.05 480.9 L339.72 480.14 L340.4 479.37 L341.07 478.61 L341.74 477.83 L342.41 477.06 L343.09 476.28 L343.76 475.5 L344.43 474.72 L345.11 473.94 L345.78 473.15 L346.45 472.36 L347.12 471.56 L347.8 470.77 L348.47 469.97 L349.14 469.17 L349.82 468.36 L350.49 467.56 L351.16 466.75 L351.84 465.93 L352.51 465.12 L353.18 464.3 L353.85 463.48 L354.53 462.66 L355.2 461.83 L355.87 461 L356.55 460.17 L357.22 459.34 L357.89 458.5 L358.57 457.66 L359.24 456.82 L359.91 455.97 L360.58 455.12 L361.26 454.27 L361.93 453.42 L362.6 452.56 L363.28 451.7 L363.95 450.84 L364.62 449.98 L365.29 449.11 L365.97 448.24 L366.64 447.37 L367.31 446.49 L367.99 445.61 L368.66 444.73 L369.33 443.85 L370.01 442.96 L370.68 442.07 L371.35 441.18 L372.02 440.28 L372.7 439.38 L373.37 438.48 L374.04 437.58 L374.72 436.67 L375.39 435.76 L376.06 434.85 L376.74 433.93 L377.41 433.02 L378.08 432.1 L378.75 431.17 L379.43 430.25 L380.1 429.32" fill="none" stroke="#008000" stroke-width="1.15" stroke-dasharray="10.3 3.7" clip-path="url(#cc)"/>
<path d="M277.99 325.56 L278.5 332.53 L279.01 339.29 L279.53 345.86 L280.04 352.23 L280.55 358.42 L281.06 364.43 L281.58 370.27 L282.09 375.94 L282.6 381.45 L283.12 386.82 L283.63 392.03 L284.14 397.1 L284.66 402.03 L285.17 406.83 L285.68 411.51 L286.2 416.05 L286.71 420.48 L287.22 424.8 L287.74 429 L288.25 433.1 L288.76 437.09 L289.27 440.98 L289.79 444.78 L290.3 448.48 L290.81 452.09 L291.33 455.62 L291.84 459.06 L292.35 462.42 L292.87 465.7 L293.38 468.91 L293.89 472.04 L294.41 475.1 L294.92 478.09 L295.43 481.02 L295.95 483.88 L296.46 486.69 L296.97 489.43 L297.49 492.11 L298 494.74 L298.51 497.32 L299.02 499.84 L299.54 502.31 L300.05 504.74 L300.56 507.12 L301.08 509.45 L301.59 511.74 L302.1 513.99 L302.62 516.19 L303.13 518.36 L303.64 520.49 L304.16 522.58 L304.67 524.64 L305.18 526.66 L305.7 528.65 L306.21 530.61 L306.72 532.54 L307.23 534.44 L307.75 536.31 L308.26 538.15 L308.77 539.97 L309.29 541.76 L309.8 543.53 L310.31 545.27 L310.83 546.99 L311.34 548.69 L311.85 550.37 L312.37 552.03 L312.88 553.67 L313.39 555.29 L313.91 556.89 L314.42 558.48 L314.93 560.04 L315.44 561.59 L315.96 563.13 L316.47 564.64 L316.98 566.14 L317.5 567.62 L318.01 569.09 L318.52 570.54 L319.04 571.97 L319.55 573.39 L320.06 574.79 L320.58 576.17 L321.09 577.54 L321.6 578.9 L322.12 580.24 L322.63 581.56 L323.14 582.87 L323.66 584.17 L324.17 585.45 L324.68 586.72 L325.19 587.97 L325.71 589.21 L326.22 590.43 L326.73 591.64 L327.25 592.84 L327.76 594.03 L328.27 595.2 L328.79 596.36 L329.3 597.5 L329.81 598.63 L330.33 599.75 L330.84 600.86 L331.35 601.95 L331.87 603.04 L332.38 604.11 L332.89 605.16 L333.4 606.21 L333.92 607.25 L334.43 608.27 L334.94 609.28 L335.46 610.28 L335.97 611.27 L336.48 612.25 L337 613.21 L337.51 614.17 L338.02 615.12 L338.54 616.05 L339.05 616.98 L339.56 617.89 L340.08 618.79 L340.59 619.69 L341.1 620.57 L341.61 621.44 L342.13 622.31 L342.64 623.16 L343.15 624.01 L343.67 624.84 L344.18 625.67 L344.69 626.48 L345.21 627.29 L345.72 628.09 L346.23 628.88 L346.75 629.66 L347.26 630.43 L347.77 631.19 L348.29 631.95 L348.8 632.69 L349.31 633.43 L349.82 634.16 L350.34 634.88 L350.85 635.59 L351.36 636.3 L351.88 636.99 L352.39 637.68 L352.9 638.36 L353.42 639.04 L353.93 639.7 L354.44 640.36 L354.96 641.01 L355.47 641.65 L355.98 642.29 L356.5 642.92 L357.01 643.54 L357.52 644.15 L358.04 644.76 L358.55 645.36 L359.06 645.96 L359.57 646.54 L360.09 647.12 L360.6 647.7 L361.11 648.26 L361.63 648.82 L362.14 649.38 L362.65 649.93 L363.17 650.47 L363.68 651 L364.19 651.53 L364.71 652.06 L365.22 652.57 L365.73 653.08 L366.25 653.59 L366.76 654.09 L367.27 654.58 L367.78 655.07 L368.3 655.55 L368.81 656.03 L369.32 656.5 L369.84 656.97 L370.35 657.43 L370.86 657.88 L371.38 658.33 L371.89 658.78 L372.4 659.22 L372.92 659.65 L373.43 660.08 L373.94 660.5 L374.46 660.92 L374.97 661.34 L375.48 661.74 L375.99 662.15 L376.51 662.55 L377.02 662.94 L377.53 663.33 L378.05 663.72 L378.56 664.1 L379.07 664.47 L379.59 664.85 L380.1 665.21" fill="none" stroke="#008000" stroke-width="1.15" clip-path="url(#cc)"/>
<circle cx="112.26" cy="689.91" r="2.45" fill="none" stroke="#000000" stroke-width="1.1"/>
<circle cx="145.74" cy="687.44" r="2.45" fill="none" stroke="#000000" stroke-width="1.1"/>
<circle cx="179.22" cy="685.03" r="2.45" fill="none" stroke="#000000" stroke-width="1.1"/>
<circle cx="212.7" cy="681.81" r="2.45" fill="none" stroke="#000000" stroke-width="1.1"/>
<circle cx="246.18" cy="678.4" r="2.45" fill="none" stroke="#000000" stroke-width="1.1"/>
<circle cx="279.66" cy="674.72" r="2.45" fill="none" stroke="#000000" stroke-width="1.1"/>
<circle cx="313.14" cy="671.1" r="2.45" fill="none" stroke="#000000" stroke-width="1.1"/>
<circle cx="346.62" cy="667.22" r="2.45" fill="none" stroke="#000000" stroke-width="1.1"/>
<circle cx="380.1" cy="662.34" r="2.45" fill="none" stroke="#000000" stroke-width="1.1"/>
<circle cx="112.26" cy="612.73" r="2.35" fill="#000000"/>
<circle cx="145.74" cy="646.2" r="2.35" fill="#000000"/>
<circle cx="179.22" cy="667.42" r="2.35" fill="#000000"/>
<circle cx="212.7" cy="681.81" r="2.35" fill="#000000"/>
<circle cx="246.18" cy="690.85" r="2.35" fill="#000000"/>
<circle cx="279.66" cy="697.95" r="2.35" fill="#000000"/>
<circle cx="313.14" cy="702.83" r="2.35" fill="#000000"/>
<circle cx="346.62" cy="706.72" r="2.35" fill="#000000"/>
<circle cx="380.1" cy="709.66" r="2.35" fill="#000000"/>
<circle cx="112.26" cy="679" r="2.45" fill="none" stroke="#ff8000" stroke-width="1.1"/>
<circle cx="145.74" cy="674.52" r="2.45" fill="none" stroke="#ff8000" stroke-width="1.1"/>
<circle cx="179.22" cy="669.9" r="2.45" fill="none" stroke="#ff8000" stroke-width="1.1"/>
<circle cx="212.7" cy="664.74" r="2.45" fill="none" stroke="#ff8000" stroke-width="1.1"/>
<circle cx="246.18" cy="658.92" r="2.45" fill="none" stroke="#ff8000" stroke-width="1.1"/>
<circle cx="279.66" cy="652.9" r="2.45" fill="none" stroke="#ff8000" stroke-width="1.1"/>
<circle cx="313.14" cy="646.2" r="2.45" fill="none" stroke="#ff8000" stroke-width="1.1"/>
<circle cx="346.62" cy="638.44" r="2.45" fill="none" stroke="#ff8000" stroke-width="1.1"/>
<circle cx="380.1" cy="629.67" r="2.45" fill="none" stroke="#ff8000" stroke-width="1.1"/>
<circle cx="145.74" cy="519.02" r="2.35" fill="#ff8000"/>
<circle cx="179.22" cy="597.34" r="2.35" fill="#ff8000"/>
<circle cx="212.7" cy="640.38" r="2.35" fill="#ff8000"/>
<circle cx="246.18" cy="665.48" r="2.35" fill="#ff8000"/>
<circle cx="279.66" cy="681.61" r="2.35" fill="#ff8000"/>
<circle cx="313.14" cy="692.06" r="2.35" fill="#ff8000"/>
<circle cx="346.62" cy="699.42" r="2.35" fill="#ff8000"/>
<circle cx="380.1" cy="704.24" r="2.35" fill="#ff8000"/>
<circle cx="145.74" cy="654.24" r="2.45" fill="none" stroke="#8000ff" stroke-width="1.1"/>
<circle cx="179.22" cy="646.2" r="2.45" fill="none" stroke="#8000ff" stroke-width="1.1"/>
<circle cx="212.7" cy="636.16" r="2.45" fill="none" stroke="#8000ff" stroke-width="1.1"/>
<circle cx="246.18" cy="626.12" r="2.45" fill="none" stroke="#8000ff" stroke-width="1.1"/>
<circle cx="279.66" cy="614.07" r="2.45" fill="none" stroke="#8000ff" stroke-width="1.1"/>
<circle cx="313.14" cy="600.15" r="2.45" fill="none" stroke="#8000ff" stroke-width="1.1"/>
<circle cx="346.62" cy="584.62" r="2.45" fill="none" stroke="#8000ff" stroke-width="1.1"/>
<circle cx="380.1" cy="566.74" r="2.45" fill="none" stroke="#8000ff" stroke-width="1.1"/>
<circle cx="212.7" cy="462.79" r="2.35" fill="#8000ff"/>
<circle cx="246.18" cy="579.4" r="2.35" fill="#8000ff"/>
<circle cx="279.66" cy="635.02" r="2.35" fill="#8000ff"/>
<circle cx="313.14" cy="665.48" r="2.35" fill="#8000ff"/>
<circle cx="346.62" cy="682.55" r="2.35" fill="#8000ff"/>
<circle cx="380.1" cy="693.8" r="2.35" fill="#8000ff"/>
<circle cx="179.22" cy="628.8" r="2.45" fill="none" stroke="#ff0000" stroke-width="1.1"/>
<circle cx="212.7" cy="614.74" r="2.45" fill="none" stroke="#ff0000" stroke-width="1.1"/>
<circle cx="246.18" cy="600.01" r="2.45" fill="none" stroke="#ff0000" stroke-width="1.1"/>
<circle cx="279.66" cy="583.28" r="2.45" fill="none" stroke="#ff0000" stroke-width="1.1"/>
<circle cx="313.14" cy="563.2" r="2.45" fill="none" stroke="#ff0000" stroke-width="1.1"/>
<circle cx="346.62" cy="539.77" r="2.45" fill="none" stroke="#ff0000" stroke-width="1.1"/>
<circle cx="380.1" cy="512.99" r="2.45" fill="none" stroke="#ff0000" stroke-width="1.1"/>
<circle cx="246.18" cy="420.61" r="2.35" fill="#ff0000"/>
<circle cx="279.66" cy="568.15" r="2.35" fill="#ff0000"/>
<circle cx="313.14" cy="632.81" r="2.35" fill="#ff0000"/>
<circle cx="346.62" cy="665.48" r="2.35" fill="#ff0000"/>
<circle cx="380.1" cy="683.29" r="2.35" fill="#ff0000"/>
<circle cx="246.18" cy="563.87" r="2.45" fill="none" stroke="#008000" stroke-width="1.1"/>
<circle cx="279.66" cy="538.43" r="2.45" fill="none" stroke="#008000" stroke-width="1.1"/>
<circle cx="313.14" cy="508.31" r="2.45" fill="none" stroke="#008000" stroke-width="1.1"/>
<circle cx="346.62" cy="472.16" r="2.45" fill="none" stroke="#008000" stroke-width="1.1"/>
<circle cx="380.1" cy="429.32" r="2.45" fill="none" stroke="#008000" stroke-width="1.1"/>
<circle cx="313.14" cy="554.49" r="2.35" fill="#008000"/>
<circle cx="346.62" cy="629.47" r="2.35" fill="#008000"/>
<circle cx="380.1" cy="665.21" r="2.35" fill="#008000"/>
<path d="M296.51 514.33 H315.71 M306.11 504.73 V523.93" stroke="#008000" stroke-width="3.0" fill="none"/>
<path d="M275.42 578.93 H294.62 M285.02 569.33 V588.53" stroke="#ff0000" stroke-width="3.0" fill="none"/>
<path d="M259.35 617.42 H278.55 M268.95 607.82 V627.02" stroke="#8000ff" stroke-width="3.0" fill="none"/>
<path d="M228.88 660.26 H248.08 M238.48 650.66 V669.86" stroke="#ff8000" stroke-width="3.0" fill="none"/>
<path d="M204.1 681.35 H223.3 M213.7 671.75 V690.95" stroke="#000000" stroke-width="3.0" fill="none"/>
<rect x="45.3" y="392.5" width="334.8" height="334.7" fill="none" stroke="#1a1a1a" stroke-width="1.3"/>
<path d="M78.78 727.2v-4.8 M78.78 392.5v4.8 M112.26 727.2v-4.8 M112.26 392.5v4.8 M145.74 727.2v-4.8 M145.74 392.5v4.8 M179.22 727.2v-4.8 M179.22 392.5v4.8 M212.7 727.2v-4.8 M212.7 392.5v4.8 M246.18 727.2v-4.8 M246.18 392.5v4.8 M279.66 727.2v-4.8 M279.66 392.5v4.8 M313.14 727.2v-4.8 M313.14 392.5v4.8 M346.62 727.2v-4.8 M346.62 392.5v4.8 M45.3 693.73h2.2 M380.1 693.73h-2.2 M45.3 660.26h4.5 M380.1 660.26h-4.5 M45.3 626.79h2.2 M380.1 626.79h-2.2 M45.3 593.32h4.5 M380.1 593.32h-4.5 M45.3 559.85h2.2 M380.1 559.85h-2.2 M45.3 526.38h4.5 M380.1 526.38h-4.5 M45.3 492.91h2.2 M380.1 492.91h-2.2 M45.3 459.44h4.5 M380.1 459.44h-4.5 M45.3 425.97h2.2 M380.1 425.97h-2.2 " stroke="#1a1a1a" stroke-width="1.2" fill="none"/>
<path d="M51 560.1H90.7" stroke="#000" stroke-width="1.15" stroke-dasharray="10.3 3.7" fill="none"/>
<circle cx="70.85" cy="560.1" r="2.45" fill="none" stroke="#000" stroke-width="1"/>
<path d="M51 593.5H90.7" stroke="#000" stroke-width="1.15" fill="none"/>
<circle cx="70.85" cy="593.5" r="2.35" fill="#000"/>
<g transform="translate(100.4 566.8)" font-family="Liberation Serif, serif" font-size="26" fill="#000" color="#000"><path d="M12.91 -13.38 L0.53 3.37" stroke="currentColor" stroke-width="1.61" stroke-linecap="round" fill="none"/><path d="M2.26 -10.35 C2.53 -12.84 4.66 -14.27 5.59 -12.13 C6.26 -9.99 6.66 -4.11 7.19 -0.37 C7.72 3.01 9.05 3.9 10.38 2.65 C11.32 1.76 11.85 0.69 12.25 -0.55" stroke="currentColor" stroke-width="1.3" stroke-linecap="round" fill="none"/><text transform="translate(14.69 -15.99) scale(1 1.04)" font-size="16.12" font-style="italic">s</text><text x="20.96" y="-1.82">(</text><text transform="translate(28.58 0) skewX(-8) scale(1 1.07)" font-style="italic" font-weight="bold">Q</text><text x="48.39" y="-1.82">)</text></g>
<g transform="translate(100.4 601.2)" font-family="Liberation Serif, serif" font-size="26" fill="#000" color="#000"><path d="M12.91 -13.38 L0.53 3.37" stroke="currentColor" stroke-width="1.61" stroke-linecap="round" fill="none"/><path d="M2.26 -10.35 C2.53 -12.84 4.66 -14.27 5.59 -12.13 C6.26 -9.99 6.66 -4.11 7.19 -0.37 C7.72 3.01 9.05 3.9 10.38 2.65 C11.32 1.76 11.85 0.69 12.25 -0.55" stroke="currentColor" stroke-width="1.3" stroke-linecap="round" fill="none"/><text transform="translate(14.69 -15.99) scale(1 1.04)" font-size="16.12" font-style="italic">Q</text><text x="27.24" y="-1.82">(</text><text transform="translate(34.86 0) skewX(-8) scale(1 1.07)" font-style="italic" font-weight="bold">Q</text><text x="54.67" y="-1.82">)</text></g>
<rect x="435.6" y="391.7" width="335.1" height="334.9" fill="url(#gd)"/>
<rect x="435.6" y="391.7" width="335.1" height="334.9" fill="none" stroke="#1a1a1a" stroke-width="1.3"/>
<path d="M469.11 726.6v-4.8 M469.11 391.7v4.8 M502.62 726.6v-4.8 M502.62 391.7v4.8 M536.13 726.6v-4.8 M536.13 391.7v4.8 M569.64 726.6v-4.8 M569.64 391.7v4.8 M603.15 726.6v-4.8 M603.15 391.7v4.8 M636.66 726.6v-4.8 M636.66 391.7v4.8 M670.17 726.6v-4.8 M670.17 391.7v4.8 M703.68 726.6v-4.8 M703.68 391.7v4.8 M737.19 726.6v-4.8 M737.19 391.7v4.8 M435.6 670.78h4.5 M770.7 670.78h-4.5 M435.6 614.97h4.5 M770.7 614.97h-4.5 M435.6 559.15h4.5 M770.7 559.15h-4.5 M435.6 503.33h4.5 M770.7 503.33h-4.5 M435.6 447.52h4.5 M770.7 447.52h-4.5 " stroke="#1a1a1a" stroke-width="1.2" fill="none"/>
<path d="M544.51 726.6 L549.53 614.97 L554.23 503.33 L555.9 447.52 L557.91 391.7" fill="none" stroke="#000" stroke-width="1"/>
<path d="M604.49 726.6 L627.95 614.97 L659.45 503.33 L675.87 447.52 L696.98 391.7" fill="none" stroke="#008000" stroke-width="1.2"/>
<circle cx="544.51" cy="726.6" r="5.8" fill="none" stroke="#000" stroke-width="1.2"/>
<circle cx="549.53" cy="614.97" r="5.8" fill="none" stroke="#000" stroke-width="1.2"/>
<circle cx="554.23" cy="503.33" r="5.8" fill="none" stroke="#000" stroke-width="1.2"/>
<circle cx="555.9" cy="447.52" r="5.8" fill="none" stroke="#000" stroke-width="1.2"/>
<circle cx="557.91" cy="391.7" r="5.8" fill="none" stroke="#000" stroke-width="1.2"/>
<circle cx="604.49" cy="726.6" r="6" fill="#008000"/>
<circle cx="627.95" cy="614.97" r="6" fill="#008000"/>
<circle cx="659.45" cy="503.33" r="6" fill="#008000"/>
<circle cx="675.87" cy="447.52" r="6" fill="#008000"/>
<circle cx="696.98" cy="391.7" r="6" fill="#008000"/>
<rect x="667.7" y="540.5" width="143.9" height="142.2" fill="url(#gi)"/>
<rect x="667.7" y="540.5" width="143.9" height="142.2" fill="none" stroke="#1a1a1a" stroke-width="1.2"/>
<path d="M682.09 682.7v-3.2 M682.09 540.5v3.2 M696.48 682.7v-3.2 M696.48 540.5v3.2 M710.87 682.7v-3.2 M710.87 540.5v3.2 M725.26 682.7v-3.2 M725.26 540.5v3.2 M739.65 682.7v-3.2 M739.65 540.5v3.2 M754.04 682.7v-3.2 M754.04 540.5v3.2 M768.43 682.7v-3.2 M768.43 540.5v3.2 M782.82 682.7v-3.2 M782.82 540.5v3.2 M797.21 682.7v-3.2 M797.21 540.5v3.2 M667.7 668.48h3 M811.6 668.48h-3 M667.7 654.26h3 M811.6 654.26h-3 M667.7 640.04h3 M811.6 640.04h-3 M667.7 625.82h3 M811.6 625.82h-3 M667.7 611.6h4.5 M811.6 611.6h-4.5 M667.7 597.38h3 M811.6 597.38h-3 M667.7 583.16h3 M811.6 583.16h-3 M667.7 568.94h3 M811.6 568.94h-3 M667.7 554.72h3 M811.6 554.72h-3 " stroke="#1a1a1a" stroke-width="1.1" fill="none"/>
<path d="M728.57 682.7 L746.13 647.15 L768.43 611.6 L802.25 576.05" fill="none" stroke="#000" stroke-width="1.1"/>
<rect x="722.77" y="676.9" width="11.6" height="11.6" fill="none" stroke="#000" stroke-width="1.1"/>
<rect x="740.33" y="641.35" width="11.6" height="11.6" fill="none" stroke="#000" stroke-width="1.1"/>
<rect x="762.63" y="605.8" width="11.6" height="11.6" fill="none" stroke="#000" stroke-width="1.1"/>
<rect x="796.45" y="570.25" width="11.6" height="11.6" fill="none" stroke="#000" stroke-width="1.1"/>
<text transform="translate(42.3 349.5)" font-family="Liberation Sans, sans-serif" font-size="20.3" text-anchor="end" fill="#000">0</text>
<text transform="translate(42.3 282.58)" font-family="Liberation Sans, sans-serif" font-size="20.3" text-anchor="end" fill="#000">10</text>
<text transform="translate(42.3 215.66)" font-family="Liberation Sans, sans-serif" font-size="20.3" text-anchor="end" fill="#000">20</text>
<text transform="translate(42.3 148.74)" font-family="Liberation Sans, sans-serif" font-size="20.3" text-anchor="end" fill="#000">30</text>
<text transform="translate(42.3 81.82)" font-family="Liberation Sans, sans-serif" font-size="20.3" text-anchor="end" fill="#000">40</text>
<text transform="translate(42.3 14.9)" font-family="Liberation Sans, sans-serif" font-size="20.3" text-anchor="end" fill="#000">50</text>
<text transform="translate(45.3 363.7)" font-family="Liberation Sans, sans-serif" font-size="20.3" text-anchor="middle" fill="#000">0</text>
<text transform="translate(212.7 363.7)" font-family="Liberation Sans, sans-serif" font-size="20.3" text-anchor="middle" fill="#000">0.05</text>
<text transform="translate(380.1 363.7)" font-family="Liberation Sans, sans-serif" font-size="20.3" text-anchor="middle" fill="#000">0.1</text>
<text transform="translate(210.9 381.1) scale(1 1.04)" font-family="Liberation Serif, serif" font-size="21.3" text-anchor="middle" fill="#000" font-style="italic">J/U</text>
<g transform="translate(15.2 190) rotate(-90)" font-family="Liberation Serif, serif" font-size="20.3" fill="#000" color="#000"><path d="M10.08 -10.44 L0.42 2.63" stroke="currentColor" stroke-width="1.26" stroke-linecap="round" fill="none"/><path d="M1.77 -8.08 C1.97 -10.03 3.64 -11.14 4.37 -9.47 C4.88 -7.8 5.2 -3.21 5.61 -0.29 C6.03 2.35 7.07 3.04 8.11 2.07 C8.83 1.38 9.25 0.54 9.56 -0.43" stroke="currentColor" stroke-width="1.02" stroke-linecap="round" fill="none"/><text x="11.37" y="-1.42">(</text><text transform="translate(17.32 0) skewX(-8) scale(1 1.07)" font-style="italic" font-weight="bold">Q</text><text x="32.78" y="-1.42">)</text></g>
<text transform="translate(47.1 31.4)" font-family="Liberation Sans, sans-serif" font-size="25.5" text-anchor="start" fill="#000">(a)</text>
<text transform="translate(157.4 42.2) scale(1 1.04)" font-family="Liberation Serif, serif" font-size="24.9" text-anchor="start" fill="#800080">3.8</text>
<text transform="translate(215.4 70.3) scale(1 1.04)" font-family="Liberation Serif, serif" font-size="24.9" text-anchor="start" fill="#0000ff">3.7</text>
<text transform="translate(277.1 94.6) scale(1 1.04)" font-family="Liberation Serif, serif" font-size="24.9" text-anchor="start" fill="#008000">3.6</text>
<text transform="translate(343.9 109.2) scale(1 1.04)" font-family="Liberation Serif, serif" font-size="24.9" text-anchor="start" fill="#ff0000">3.5</text>
<text transform="translate(66.9 329.2) scale(1 1.04)" font-family="Liberation Serif, serif" font-size="24.9" text-anchor="start" fill="#000"><tspan font-style="italic">U</tspan>=3.0</text>
<text transform="translate(273.1 199.9) scale(1 1.04)" font-family="Liberation Serif, serif" font-size="25" text-anchor="start" fill="#000">Λ<tspan font-size="18" dy="5">0</tspan><tspan dy="-5"> = 1.0</tspan></text>
<text transform="translate(433.7 349.5)" font-family="Liberation Sans, sans-serif" font-size="20.3" text-anchor="end" fill="#000">0</text>
<text transform="translate(433.7 182.2)" font-family="Liberation Sans, sans-serif" font-size="20.3" text-anchor="end" fill="#000">5</text>
<text transform="translate(433.7 14.9)" font-family="Liberation Sans, sans-serif" font-size="20.3" text-anchor="end" fill="#000">10</text>
<text transform="translate(436.7 363.7)" font-family="Liberation Sans, sans-serif" font-size="20.3" text-anchor="middle" fill="#000">0</text>
<text transform="translate(604.15 363.7)" font-family="Liberation Sans, sans-serif" font-size="20.3" text-anchor="middle" fill="#000">0.1</text>
<text transform="translate(771.6 363.7)" font-family="Liberation Sans, sans-serif" font-size="20.3" text-anchor="middle" fill="#000">0.2</text>
<text transform="translate(602 381.1) scale(1 1.04)" font-family="Liberation Serif, serif" font-size="21.3" text-anchor="middle" fill="#000" font-style="italic">J/U</text>
<g transform="translate(414.6 190) rotate(-90)" font-family="Liberation Serif, serif" font-size="20.3" fill="#000" color="#000"><path d="M10.08 -10.44 L0.42 2.63" stroke="currentColor" stroke-width="1.26" stroke-linecap="round" fill="none"/><path d="M1.77 -8.08 C1.97 -10.03 3.64 -11.14 4.37 -9.47 C4.88 -7.8 5.2 -3.21 5.61 -0.29 C6.03 2.35 7.07 3.04 8.11 2.07 C8.83 1.38 9.25 0.54 9.56 -0.43" stroke="currentColor" stroke-width="1.02" stroke-linecap="round" fill="none"/><text x="11.37" y="-1.42">(</text><text transform="translate(17.32 0) skewX(-8) scale(1 1.07)" font-style="italic" font-weight="bold">Q</text><text x="32.78" y="-1.42">)</text></g>
<text transform="translate(438.5 31.4)" font-family="Liberation Sans, sans-serif" font-size="25.5" text-anchor="start" fill="#000">(b)</text>
<text transform="translate(439.7 94.6) scale(1 1.04)" font-family="Liberation Serif, serif" font-size="24.9" text-anchor="start" fill="#ff0000">4.5</text>
<text transform="translate(503.6 114.1) scale(1 1.04)" font-family="Liberation Serif, serif" font-size="24.9" text-anchor="start" fill="#008000">5.0</text>
<text transform="translate(554.1 66.1) scale(1 1.04)" font-family="Liberation Serif, serif" font-size="24.9" text-anchor="start" fill="#0000ff">5.5</text>
<text transform="translate(439.1 281.4) scale(1 1.04)" font-family="Liberation Serif, serif" font-size="24.9" text-anchor="start" fill="#000"><tspan font-style="italic">U</tspan>=4.0</text>
<text transform="translate(602.2 32.3) scale(1 1.04)" font-family="Liberation Serif, serif" font-size="25" text-anchor="start" fill="#000">Λ<tspan font-size="18" dy="5">0</tspan><tspan dy="-5"> = 3.0</tspan></text>
<text transform="translate(42.3 734.2)" font-family="Liberation Sans, sans-serif" font-size="20.3" text-anchor="end" fill="#000">0</text>
<text transform="translate(42.3 667.26)" font-family="Liberation Sans, sans-serif" font-size="20.3" text-anchor="end" fill="#000">10</text>
<text transform="translate(42.3 600.32)" font-family="Liberation Sans, sans-serif" font-size="20.3" text-anchor="end" fill="#000">20</text>
<text transform="translate(42.3 533.38)" font-family="Liberation Sans, sans-serif" font-size="20.3" text-anchor="end" fill="#000">30</text>
<text transform="translate(42.3 466.44)" font-family="Liberation Sans, sans-serif" font-size="20.3" text-anchor="end" fill="#000">40</text>
<text transform="translate(42.3 399.5)" font-family="Liberation Sans, sans-serif" font-size="20.3" text-anchor="end" fill="#000">50</text>
<text transform="translate(45.3 748.3)" font-family="Liberation Sans, sans-serif" font-size="20.3" text-anchor="middle" fill="#000">0</text>
<text transform="translate(212.7 748.3)" font-family="Liberation Sans, sans-serif" font-size="20.3" text-anchor="middle" fill="#000">0.05</text>
<text transform="translate(380.1 748.3)" font-family="Liberation Sans, sans-serif" font-size="20.3" text-anchor="middle" fill="#000">0.1</text>
<text transform="translate(210.9 765.8) scale(1 1.04)" font-family="Liberation Serif, serif" font-size="21.3" text-anchor="middle" fill="#000" font-style="italic">J/U</text>
<g transform="translate(15.2 574.6) rotate(-90)" font-family="Liberation Serif, serif" font-size="20.3" fill="#000" color="#000"><path d="M10.08 -10.44 L0.42 2.63" stroke="currentColor" stroke-width="1.26" stroke-linecap="round" fill="none"/><path d="M1.77 -8.08 C1.97 -10.03 3.64 -11.14 4.37 -9.47 C4.88 -7.8 5.2 -3.21 5.61 -0.29 C6.03 2.35 7.07 3.04 8.11 2.07 C8.83 1.38 9.25 0.54 9.56 -0.43" stroke="currentColor" stroke-width="1.02" stroke-linecap="round" fill="none"/><text x="11.37" y="-1.42">(</text><text transform="translate(17.32 0) skewX(-8) scale(1 1.07)" font-style="italic" font-weight="bold">Q</text><text x="32.78" y="-1.42">)</text></g>
<text transform="translate(47.1 416.8)" font-family="Liberation Sans, sans-serif" font-size="25.5" text-anchor="start" fill="#000">(c)</text>
<text transform="translate(248.3 425.9) scale(1 1.04)" font-family="Liberation Serif, serif" font-size="24.9" text-anchor="start" fill="#ff0000">3.5</text>
<text transform="translate(214.6 469.4) scale(1 1.04)" font-family="Liberation Serif, serif" font-size="24.9" text-anchor="start" fill="#8000ff">3.4</text>
<text transform="translate(319.7 465) scale(1 1.04)" font-family="Liberation Serif, serif" font-size="24.9" text-anchor="start" fill="#008000">3.6</text>
<text transform="translate(176.6 594.2) scale(1 1.04)" font-family="Liberation Serif, serif" font-size="24.9" text-anchor="start" fill="#ff8000">3.2</text>
<text transform="translate(100.3 714.2) scale(1 1.04)" font-family="Liberation Serif, serif" font-size="24.9" text-anchor="start" fill="#000"><tspan font-style="italic">U</tspan>=3.0</text>
<text transform="translate(58.1 503.3) scale(1 1.04)" font-family="Liberation Serif, serif" font-size="24.4" text-anchor="start" fill="#000">Λ<tspan font-size="17.57" dy="4.88">0</tspan><tspan dy="-4.88">=1.0</tspan></text>
<text transform="translate(47.6 533.8)" font-family="Liberation Sans, sans-serif" font-size="25" text-anchor="start" fill="#000">with cVC</text>
<text transform="translate(432.6 733.6)" font-family="Liberation Sans, sans-serif" font-size="20.3" text-anchor="end" fill="#000">3</text>
<text transform="translate(432.6 621.97)" font-family="Liberation Sans, sans-serif" font-size="20.3" text-anchor="end" fill="#000">3.2</text>
<text transform="translate(432.6 510.33)" font-family="Liberation Sans, sans-serif" font-size="20.3" text-anchor="end" fill="#000">3.4</text>
<text transform="translate(432.6 398.7)" font-family="Liberation Sans, sans-serif" font-size="20.3" text-anchor="end" fill="#000">3.6</text>
<text transform="translate(435.6 748.3)" font-family="Liberation Sans, sans-serif" font-size="20.3" text-anchor="middle" fill="#000">0</text>
<text transform="translate(603.15 748.3)" font-family="Liberation Sans, sans-serif" font-size="20.3" text-anchor="middle" fill="#000">0.05</text>
<text transform="translate(770.7 748.3)" font-family="Liberation Sans, sans-serif" font-size="20.3" text-anchor="middle" fill="#000">0.1</text>
<text transform="translate(600.5 765.8) scale(1 1.04)" font-family="Liberation Serif, serif" font-size="21.3" text-anchor="middle" fill="#000" font-style="italic">J/U</text>
<text transform="translate(414.4 560) rotate(-90) scale(1 1.04)" font-family="Liberation Serif, serif" font-size="21.3" text-anchor="middle" fill="#000" font-style="italic">U</text>
<text transform="translate(437.6 415.6)" font-family="Liberation Sans, sans-serif" font-size="25.5" text-anchor="start" fill="#000">(d)</text>
<text transform="translate(581.8 415.7) scale(1 1.04)" font-family="Liberation Serif, serif" font-size="25" text-anchor="start" fill="#000">Λ<tspan font-size="18" dy="5">0</tspan><tspan dy="-5">=1.0</tspan></text>
<g transform="translate(472 475.2)" font-family="Liberation Serif, serif" font-size="26" fill="#008000" color="#008000"><path d="M12.91 -13.38 L0.53 3.37" stroke="currentColor" stroke-width="1.61" stroke-linecap="round" fill="none"/><path d="M2.26 -10.35 C2.53 -12.84 4.66 -14.27 5.59 -12.13 C6.26 -9.99 6.66 -4.11 7.19 -0.37 C7.72 3.01 9.05 3.9 10.38 2.65 C11.32 1.76 11.85 0.69 12.25 -0.55" stroke="currentColor" stroke-width="1.3" stroke-linecap="round" fill="none"/><text transform="translate(14.69 -15.99) scale(1 1.04)" font-size="16.12" font-style="italic">Q</text><text x="27.24" y="-1.82">(</text><text transform="translate(34.86 0) skewX(-8) scale(1 1.07)" font-style="italic" font-weight="bold">Q</text><text x="54.67" y="-1.82">)</text></g>
<text transform="translate(538.9 475.2) scale(1 1.04)" font-family="Liberation Serif, serif" font-size="26" text-anchor="start" fill="#008000">&gt;</text>
<g transform="translate(560.5 475.2)" font-family="Liberation Serif, serif" font-size="26" fill="#008000" color="#008000"><path d="M12.91 -13.38 L0.53 3.37" stroke="currentColor" stroke-width="1.61" stroke-linecap="round" fill="none"/><path d="M2.26 -10.35 C2.53 -12.84 4.66 -14.27 5.59 -12.13 C6.26 -9.99 6.66 -4.11 7.19 -0.37 C7.72 3.01 9.05 3.9 10.38 2.65 C11.32 1.76 11.85 0.69 12.25 -0.55" stroke="currentColor" stroke-width="1.3" stroke-linecap="round" fill="none"/><text transform="translate(14.69 -15.99) scale(1 1.04)" font-size="16.12" font-style="italic">s</text><text x="20.96" y="-1.82">(</text><text transform="translate(28.58 0) skewX(-8) scale(1 1.07)" font-style="italic" font-weight="bold">Q</text><text x="48.39" y="-1.82">)</text></g>
<g transform="translate(687.3 479.6)" font-family="Liberation Serif, serif" font-size="26" fill="#008000" color="#008000"><path d="M12.91 -13.38 L0.53 3.37" stroke="currentColor" stroke-width="1.61" stroke-linecap="round" fill="none"/><path d="M2.26 -10.35 C2.53 -12.84 4.66 -14.27 5.59 -12.13 C6.26 -9.99 6.66 -4.11 7.19 -0.37 C7.72 3.01 9.05 3.9 10.38 2.65 C11.32 1.76 11.85 0.69 12.25 -0.55" stroke="currentColor" stroke-width="1.3" stroke-linecap="round" fill="none"/><text transform="translate(14.69 -15.99) scale(1 1.04)" font-size="16.12" font-style="italic">s</text></g>
<text transform="translate(712.8 479.6) scale(1 1.04)" font-family="Liberation Serif, serif" font-size="26" text-anchor="start" fill="#008000">&gt;</text>
<g transform="translate(734.1 479.6)" font-family="Liberation Serif, serif" font-size="26" fill="#008000" color="#008000"><path d="M12.91 -13.38 L0.53 3.37" stroke="currentColor" stroke-width="1.61" stroke-linecap="round" fill="none"/><path d="M2.26 -10.35 C2.53 -12.84 4.66 -14.27 5.59 -12.13 C6.26 -9.99 6.66 -4.11 7.19 -0.37 C7.72 3.01 9.05 3.9 10.38 2.65 C11.32 1.76 11.85 0.69 12.25 -0.55" stroke="currentColor" stroke-width="1.3" stroke-linecap="round" fill="none"/><text transform="translate(14.69 -15.99) scale(1 1.04)" font-size="16.12" font-style="italic">Q</text></g>
<text transform="translate(544.3 626.1) rotate(-90)" font-family="Liberation Sans, sans-serif" font-size="25" text-anchor="start" fill="#000">without cVC</text>
<text transform="translate(625.2 605.4) rotate(-75)" font-family="Liberation Sans, sans-serif" font-size="24.3" text-anchor="start" fill="#008000">with cVC</text>
<text transform="translate(665.2 689.42)" font-family="Liberation Sans, sans-serif" font-size="19.5" text-anchor="end" fill="#000">4</text>
<text transform="translate(665.2 618.32)" font-family="Liberation Sans, sans-serif" font-size="19.5" text-anchor="end" fill="#000">5</text>
<text transform="translate(665.2 547.22)" font-family="Liberation Sans, sans-serif" font-size="19.5" text-anchor="end" fill="#000">6</text>
<text transform="translate(667.7 704.9)" font-family="Liberation Sans, sans-serif" font-size="19.5" text-anchor="middle" fill="#000">0</text>
<text transform="translate(739.65 704.9)" font-family="Liberation Sans, sans-serif" font-size="19.5" text-anchor="middle" fill="#000">0.05</text>
<text transform="translate(811.6 704.9)" font-family="Liberation Sans, sans-serif" font-size="19.5" text-anchor="middle" fill="#000">0.1</text>
<text transform="translate(739.6 722.5) scale(1 1.04)" font-family="Liberation Serif, serif" font-size="20.6" text-anchor="middle" fill="#000" font-style="italic">J/U</text>
<text transform="translate(652.4 614.3) rotate(-90) scale(1 1.04)" font-family="Liberation Serif, serif" font-size="20.6" text-anchor="middle" fill="#000" font-style="italic">U</text>
<text transform="translate(702.2 564.8) scale(1 1.04)" font-family="Liberation Serif, serif" font-size="25" text-anchor="start" fill="#000">Λ<tspan font-size="18" dy="5">0</tspan><tspan dy="-5">=3.0</tspan></text>
<g transform="translate(686.6 632.2)" font-family="Liberation Serif, serif" font-size="26" fill="#000" color="#000"><path d="M12.91 -13.38 L0.53 3.37" stroke="currentColor" stroke-width="1.61" stroke-linecap="round" fill="none"/><path d="M2.26 -10.35 C2.53 -12.84 4.66 -14.27 5.59 -12.13 C6.26 -9.99 6.66 -4.11 7.19 -0.37 C7.72 3.01 9.05 3.9 10.38 2.65 C11.32 1.76 11.85 0.69 12.25 -0.55" stroke="currentColor" stroke-width="1.3" stroke-linecap="round" fill="none"/><text transform="translate(14.69 -15.99) scale(1 1.04)" font-size="16.12" font-style="italic">Q</text><text x="27.24" y="-1.82">(</text><text transform="translate(34.86 0) skewX(-8) scale(1 1.07)" font-style="italic" font-weight="bold">Q</text><text x="54.67" y="-1.82">)</text></g>
<g transform="translate(753.7 656.5)" font-family="Liberation Serif, serif" font-size="26" fill="#000" color="#000"><path d="M12.91 -13.38 L0.53 3.37" stroke="currentColor" stroke-width="1.61" stroke-linecap="round" fill="none"/><path d="M2.26 -10.35 C2.53 -12.84 4.66 -14.27 5.59 -12.13 C6.26 -9.99 6.66 -4.11 7.19 -0.37 C7.72 3.01 9.05 3.9 10.38 2.65 C11.32 1.76 11.85 0.69 12.25 -0.55" stroke="currentColor" stroke-width="1.3" stroke-linecap="round" fill="none"/><text transform="translate(14.69 -15.99) scale(1 1.04)" font-size="16.12" font-style="italic">s</text><text x="20.96" y="-1.82">(</text><text transform="translate(28.58 0) skewX(-8) scale(1 1.07)" font-style="italic" font-weight="bold">Q</text><text x="48.39" y="-1.82">)</text></g>
</svg>
</body></html>
